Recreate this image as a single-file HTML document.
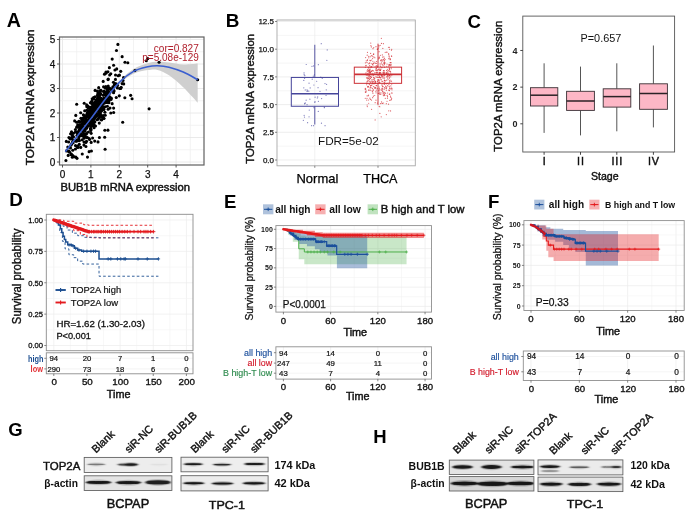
<!DOCTYPE html>
<html><head><meta charset="utf-8"><title>Figure</title>
<style>html,body{margin:0;padding:0;background:#fff;}body{width:692px;height:519px;overflow:hidden;font-family:"Liberation Sans",sans-serif;}svg{display:block;will-change:transform;}</style></head>
<body>
<svg width="692" height="519" viewBox="0 0 692 519" font-family="'Liberation Sans', sans-serif">
<rect width="692" height="519" fill="#fff"/>
<g id="A">
<text x="6.7" y="27.3" font-size="19.6" font-weight="bold">A</text>
<rect x="59.5" y="37" width="144.5" height="128" fill="#fff" stroke="none" stroke-width="1"/>
<line x1="62.5" y1="37" x2="62.5" y2="165" stroke="#e4e4e4" stroke-width="0.8"/>
<line x1="76.7" y1="37" x2="76.7" y2="165" stroke="#f0f0f0" stroke-width="0.8"/>
<line x1="90.9" y1="37" x2="90.9" y2="165" stroke="#e4e4e4" stroke-width="0.8"/>
<line x1="105.1" y1="37" x2="105.1" y2="165" stroke="#f0f0f0" stroke-width="0.8"/>
<line x1="119.3" y1="37" x2="119.3" y2="165" stroke="#e4e4e4" stroke-width="0.8"/>
<line x1="133.5" y1="37" x2="133.5" y2="165" stroke="#f0f0f0" stroke-width="0.8"/>
<line x1="147.7" y1="37" x2="147.7" y2="165" stroke="#e4e4e4" stroke-width="0.8"/>
<line x1="161.9" y1="37" x2="161.9" y2="165" stroke="#f0f0f0" stroke-width="0.8"/>
<line x1="176.1" y1="37" x2="176.1" y2="165" stroke="#e4e4e4" stroke-width="0.8"/>
<line x1="190.3" y1="37" x2="190.3" y2="165" stroke="#f0f0f0" stroke-width="0.8"/>
<line x1="59.5" y1="162" x2="204" y2="162" stroke="#e4e4e4" stroke-width="0.8"/>
<line x1="59.5" y1="149.75" x2="204" y2="149.75" stroke="#f0f0f0" stroke-width="0.8"/>
<line x1="59.5" y1="137.5" x2="204" y2="137.5" stroke="#e4e4e4" stroke-width="0.8"/>
<line x1="59.5" y1="125.25" x2="204" y2="125.25" stroke="#f0f0f0" stroke-width="0.8"/>
<line x1="59.5" y1="113" x2="204" y2="113" stroke="#e4e4e4" stroke-width="0.8"/>
<line x1="59.5" y1="100.75" x2="204" y2="100.75" stroke="#f0f0f0" stroke-width="0.8"/>
<line x1="59.5" y1="88.5" x2="204" y2="88.5" stroke="#e4e4e4" stroke-width="0.8"/>
<line x1="59.5" y1="76.25" x2="204" y2="76.25" stroke="#f0f0f0" stroke-width="0.8"/>
<line x1="59.5" y1="64" x2="204" y2="64" stroke="#e4e4e4" stroke-width="0.8"/>
<line x1="59.5" y1="51.75" x2="204" y2="51.75" stroke="#f0f0f0" stroke-width="0.8"/>
<line x1="59.5" y1="39.5" x2="204" y2="39.5" stroke="#e4e4e4" stroke-width="0.8"/>
<path d="M65.34 149.75 C67.23 147.42 72.44 141.13 76.7 135.78 C80.96 130.44 86.17 123.86 90.9 117.66 C95.63 111.45 100.37 104.67 105.1 98.55 C109.83 92.42 114.57 85.85 119.3 80.91 C124.03 75.96 128.77 71.84 133.5 68.9 C138.23 65.96 143.68 64.45 147.7 63.27 C151.72 62.08 154.09 61.92 157.64 61.8 C161.19 61.67 164.74 62.08 169 62.53 C173.26 62.98 178.42 64.33 183.2 64.49 C187.98 64.65 195.27 63.67 197.68 63.51 L197.68 102.71 C195.27 100.14 187.98 91.85 183.2 87.28 C178.42 82.7 173.26 78.17 169 75.27 C164.74 72.37 161.19 70.74 157.64 69.88 C154.09 69.02 151.72 69.47 147.7 70.12 C143.68 70.78 138.23 71.51 133.5 73.8 C128.77 76.09 124.03 79.39 119.3 83.84 C114.57 88.3 109.83 94.54 105.1 100.5 C100.37 106.47 95.63 113.33 90.9 119.62 C86.17 125.9 80.96 132.56 76.7 138.24 C72.44 143.91 67.23 151.1 65.34 153.67Z" fill="#cfcfcf" stroke="none" stroke-width="1"/>
<g fill="#000">
<circle cx="89.83" cy="112.12" r="1.55"/>
<circle cx="107.71" cy="88.32" r="1.55"/>
<circle cx="107.7" cy="93.24" r="1.55"/>
<circle cx="95.19" cy="101.72" r="1.55"/>
<circle cx="100.58" cy="97.96" r="1.55"/>
<circle cx="99.69" cy="92.65" r="1.55"/>
<circle cx="87.64" cy="116.85" r="1.55"/>
<circle cx="92.57" cy="120.16" r="1.55"/>
<circle cx="84.53" cy="122.26" r="1.55"/>
<circle cx="84.03" cy="142.09" r="1.55"/>
<circle cx="101.43" cy="99.13" r="1.55"/>
<circle cx="82.98" cy="122.42" r="1.55"/>
<circle cx="82.62" cy="124.11" r="1.55"/>
<circle cx="90.09" cy="122.54" r="1.55"/>
<circle cx="66.86" cy="150.51" r="1.55"/>
<circle cx="84.53" cy="115.85" r="1.55"/>
<circle cx="103.99" cy="102.5" r="1.55"/>
<circle cx="82.25" cy="139.83" r="1.55"/>
<circle cx="101.21" cy="107" r="1.55"/>
<circle cx="78.9" cy="137.76" r="1.55"/>
<circle cx="110.01" cy="108.07" r="1.55"/>
<circle cx="90.8" cy="118.02" r="1.55"/>
<circle cx="90.39" cy="107.38" r="1.55"/>
<circle cx="107.57" cy="94.78" r="1.55"/>
<circle cx="96.23" cy="113.39" r="1.55"/>
<circle cx="72.68" cy="141.62" r="1.55"/>
<circle cx="98.35" cy="93.23" r="1.55"/>
<circle cx="77.01" cy="135.46" r="1.55"/>
<circle cx="106.49" cy="96.59" r="1.55"/>
<circle cx="97.42" cy="115.49" r="1.55"/>
<circle cx="94.82" cy="110.08" r="1.55"/>
<circle cx="94.35" cy="118.4" r="1.55"/>
<circle cx="105.54" cy="99.83" r="1.55"/>
<circle cx="78.53" cy="133.09" r="1.55"/>
<circle cx="89.28" cy="114" r="1.55"/>
<circle cx="90.06" cy="120.37" r="1.55"/>
<circle cx="100.69" cy="106.9" r="1.55"/>
<circle cx="96.69" cy="104.23" r="1.55"/>
<circle cx="119.44" cy="75.17" r="1.55"/>
<circle cx="99.1" cy="98.97" r="1.55"/>
<circle cx="88.78" cy="114.63" r="1.55"/>
<circle cx="107.79" cy="93.45" r="1.55"/>
<circle cx="98.38" cy="103.22" r="1.55"/>
<circle cx="90.9" cy="125.5" r="1.55"/>
<circle cx="97.81" cy="110.95" r="1.55"/>
<circle cx="91.87" cy="103.26" r="1.55"/>
<circle cx="95.88" cy="112.6" r="1.55"/>
<circle cx="87.89" cy="115.26" r="1.55"/>
<circle cx="70.94" cy="145.2" r="1.55"/>
<circle cx="97.2" cy="91" r="1.55"/>
<circle cx="107.39" cy="106.31" r="1.55"/>
<circle cx="92.58" cy="119.29" r="1.55"/>
<circle cx="91.22" cy="114.66" r="1.55"/>
<circle cx="103.12" cy="106.91" r="1.55"/>
<circle cx="78.19" cy="127.1" r="1.55"/>
<circle cx="94.43" cy="121.6" r="1.55"/>
<circle cx="73.45" cy="133.24" r="1.55"/>
<circle cx="80.59" cy="127.86" r="1.55"/>
<circle cx="87.94" cy="106.16" r="1.55"/>
<circle cx="80.92" cy="134.03" r="1.55"/>
<circle cx="94.3" cy="118.55" r="1.55"/>
<circle cx="113.56" cy="92.66" r="1.55"/>
<circle cx="101.23" cy="109.08" r="1.55"/>
<circle cx="109.66" cy="75.04" r="1.55"/>
<circle cx="108.02" cy="79.61" r="1.55"/>
<circle cx="86.49" cy="127.92" r="1.55"/>
<circle cx="94.68" cy="109.11" r="1.55"/>
<circle cx="83.75" cy="133.46" r="1.55"/>
<circle cx="68.95" cy="137.58" r="1.55"/>
<circle cx="95.58" cy="102.48" r="1.55"/>
<circle cx="94.2" cy="104.23" r="1.55"/>
<circle cx="96.55" cy="100.77" r="1.55"/>
<circle cx="86.63" cy="137.44" r="1.55"/>
<circle cx="79.02" cy="122.07" r="1.55"/>
<circle cx="85.55" cy="124.03" r="1.55"/>
<circle cx="92.8" cy="112.37" r="1.55"/>
<circle cx="94.23" cy="106.11" r="1.55"/>
<circle cx="106.24" cy="102.38" r="1.55"/>
<circle cx="89.14" cy="138.66" r="1.55"/>
<circle cx="84" cy="128.71" r="1.55"/>
<circle cx="77.77" cy="146.6" r="1.55"/>
<circle cx="84.82" cy="134.69" r="1.55"/>
<circle cx="99.45" cy="117.42" r="1.55"/>
<circle cx="91.64" cy="124.06" r="1.55"/>
<circle cx="90.08" cy="121.96" r="1.55"/>
<circle cx="67.8" cy="147.06" r="1.55"/>
<circle cx="109.87" cy="92.82" r="1.55"/>
<circle cx="88.43" cy="131.97" r="1.55"/>
<circle cx="101.79" cy="119.84" r="1.55"/>
<circle cx="89.12" cy="151.64" r="1.55"/>
<circle cx="70.2" cy="138.96" r="1.55"/>
<circle cx="124.84" cy="97.82" r="1.55"/>
<circle cx="96.34" cy="103.06" r="1.55"/>
<circle cx="104.96" cy="99.79" r="1.55"/>
<circle cx="100.48" cy="102.87" r="1.55"/>
<circle cx="90.62" cy="117.15" r="1.55"/>
<circle cx="94.08" cy="127.79" r="1.55"/>
<circle cx="116.09" cy="83.77" r="1.55"/>
<circle cx="101.29" cy="98.85" r="1.55"/>
<circle cx="82.97" cy="119.46" r="1.55"/>
<circle cx="103.12" cy="103.98" r="1.55"/>
<circle cx="108.01" cy="98.31" r="1.55"/>
<circle cx="96.98" cy="105.55" r="1.55"/>
<circle cx="88.65" cy="116.65" r="1.55"/>
<circle cx="77.57" cy="147.47" r="1.55"/>
<circle cx="89.36" cy="110.94" r="1.55"/>
<circle cx="82.26" cy="154.05" r="1.55"/>
<circle cx="104.17" cy="94.96" r="1.55"/>
<circle cx="98.09" cy="100.07" r="1.55"/>
<circle cx="95.9" cy="113.63" r="1.55"/>
<circle cx="113.92" cy="90.62" r="1.55"/>
<circle cx="93.17" cy="106.5" r="1.55"/>
<circle cx="91.42" cy="151.05" r="1.55"/>
<circle cx="97.99" cy="93.03" r="1.55"/>
<circle cx="108.13" cy="109.31" r="1.55"/>
<circle cx="93.95" cy="124.61" r="1.55"/>
<circle cx="92.33" cy="122.47" r="1.55"/>
<circle cx="113.79" cy="91.17" r="1.55"/>
<circle cx="83.14" cy="123.14" r="1.55"/>
<circle cx="92.6" cy="137.96" r="1.55"/>
<circle cx="105.86" cy="86.5" r="1.55"/>
<circle cx="79.03" cy="130.75" r="1.55"/>
<circle cx="104.04" cy="102.66" r="1.55"/>
<circle cx="84.84" cy="129.61" r="1.55"/>
<circle cx="90.32" cy="128.64" r="1.55"/>
<circle cx="82.26" cy="119.97" r="1.55"/>
<circle cx="97.87" cy="96.45" r="1.55"/>
<circle cx="98.82" cy="108.72" r="1.55"/>
<circle cx="89.99" cy="110.36" r="1.55"/>
<circle cx="71.77" cy="143.64" r="1.55"/>
<circle cx="87.48" cy="137.48" r="1.55"/>
<circle cx="75.78" cy="115.42" r="1.55"/>
<circle cx="74.66" cy="120.9" r="1.55"/>
<circle cx="99.91" cy="113.3" r="1.55"/>
<circle cx="77.92" cy="125.71" r="1.55"/>
<circle cx="105.39" cy="88.04" r="1.55"/>
<circle cx="72.85" cy="155.59" r="1.55"/>
<circle cx="79.26" cy="140.49" r="1.55"/>
<circle cx="101.45" cy="102.33" r="1.55"/>
<circle cx="78.84" cy="139.96" r="1.55"/>
<circle cx="79.99" cy="130.53" r="1.55"/>
<circle cx="93.24" cy="112.21" r="1.55"/>
<circle cx="77.73" cy="134.63" r="1.55"/>
<circle cx="89.11" cy="121.98" r="1.55"/>
<circle cx="92.03" cy="119.64" r="1.55"/>
<circle cx="108.24" cy="94" r="1.55"/>
<circle cx="73.52" cy="136.81" r="1.55"/>
<circle cx="79.27" cy="144.34" r="1.55"/>
<circle cx="101.17" cy="101.98" r="1.55"/>
<circle cx="82.05" cy="124.23" r="1.55"/>
<circle cx="83.73" cy="136.72" r="1.55"/>
<circle cx="89.17" cy="107.22" r="1.55"/>
<circle cx="86.76" cy="119.8" r="1.55"/>
<circle cx="104.5" cy="74.15" r="1.55"/>
<circle cx="107.56" cy="92.25" r="1.55"/>
<circle cx="107.16" cy="102.4" r="1.55"/>
<circle cx="123.7" cy="83.88" r="1.55"/>
<circle cx="88.31" cy="107.66" r="1.55"/>
<circle cx="111.08" cy="89.56" r="1.55"/>
<circle cx="105.24" cy="115.27" r="1.55"/>
<circle cx="93.51" cy="121.71" r="1.55"/>
<circle cx="86.83" cy="114.24" r="1.55"/>
<circle cx="114.95" cy="83.62" r="1.55"/>
<circle cx="114.92" cy="70.02" r="1.55"/>
<circle cx="101.98" cy="104.83" r="1.55"/>
<circle cx="123.02" cy="80.54" r="1.55"/>
<circle cx="86.6" cy="124.79" r="1.55"/>
<circle cx="98.61" cy="111.25" r="1.55"/>
<circle cx="93.22" cy="105.2" r="1.55"/>
<circle cx="97.83" cy="98.11" r="1.55"/>
<circle cx="111.01" cy="99.57" r="1.55"/>
<circle cx="119.74" cy="88.49" r="1.55"/>
<circle cx="92.38" cy="116" r="1.55"/>
<circle cx="72.37" cy="135.66" r="1.55"/>
<circle cx="92.24" cy="110.71" r="1.55"/>
<circle cx="103.46" cy="91.51" r="1.55"/>
<circle cx="86.84" cy="106.8" r="1.55"/>
<circle cx="91.95" cy="100.95" r="1.55"/>
<circle cx="80.93" cy="135.62" r="1.55"/>
<circle cx="100.75" cy="100.82" r="1.55"/>
<circle cx="68.78" cy="151.51" r="1.55"/>
<circle cx="103.23" cy="95.19" r="1.55"/>
<circle cx="103.25" cy="115.63" r="1.55"/>
<circle cx="81.61" cy="135.41" r="1.55"/>
<circle cx="100.21" cy="115.65" r="1.55"/>
<circle cx="87.28" cy="112.79" r="1.55"/>
<circle cx="92.78" cy="114.54" r="1.55"/>
<circle cx="93.3" cy="103.11" r="1.55"/>
<circle cx="117.5" cy="85.4" r="1.55"/>
<circle cx="96.49" cy="107.5" r="1.55"/>
<circle cx="104.9" cy="102.87" r="1.55"/>
<circle cx="106.19" cy="95.09" r="1.55"/>
<circle cx="104.92" cy="112.18" r="1.55"/>
<circle cx="93.23" cy="124.4" r="1.55"/>
<circle cx="90.4" cy="102.7" r="1.55"/>
<circle cx="85.66" cy="121.28" r="1.55"/>
<circle cx="78.79" cy="121.23" r="1.55"/>
<circle cx="109.65" cy="96.73" r="1.55"/>
<circle cx="100.08" cy="98.25" r="1.55"/>
<circle cx="91.15" cy="133.36" r="1.55"/>
<circle cx="90.53" cy="120.48" r="1.55"/>
<circle cx="99.18" cy="96.81" r="1.55"/>
<circle cx="93.9" cy="98.96" r="1.55"/>
<circle cx="88.38" cy="126.18" r="1.55"/>
<circle cx="112.95" cy="89.72" r="1.55"/>
<circle cx="108.37" cy="90.86" r="1.55"/>
<circle cx="84.34" cy="120.68" r="1.55"/>
<circle cx="101.52" cy="110.11" r="1.55"/>
<circle cx="104.78" cy="99.35" r="1.55"/>
<circle cx="85.26" cy="136.48" r="1.55"/>
<circle cx="104.26" cy="99.05" r="1.55"/>
<circle cx="94.28" cy="104.52" r="1.55"/>
<circle cx="84.21" cy="103.27" r="1.55"/>
<circle cx="96.74" cy="101.69" r="1.55"/>
<circle cx="77.01" cy="158.34" r="1.55"/>
<circle cx="98.78" cy="100.96" r="1.55"/>
<circle cx="105.31" cy="93" r="1.55"/>
<circle cx="108.97" cy="101.07" r="1.55"/>
<circle cx="103.79" cy="118.32" r="1.55"/>
<circle cx="84.69" cy="110.72" r="1.55"/>
<circle cx="97.01" cy="119.72" r="1.55"/>
<circle cx="103.76" cy="98.15" r="1.55"/>
<circle cx="99.63" cy="104.93" r="1.55"/>
<circle cx="96.42" cy="99.91" r="1.55"/>
<circle cx="99.25" cy="123.12" r="1.55"/>
<circle cx="95.27" cy="104.37" r="1.55"/>
<circle cx="89.03" cy="115.95" r="1.55"/>
<circle cx="91.22" cy="126.49" r="1.55"/>
<circle cx="97.76" cy="105.45" r="1.55"/>
<circle cx="92.22" cy="98.84" r="1.55"/>
<circle cx="87.64" cy="113.58" r="1.55"/>
<circle cx="85.61" cy="126.86" r="1.55"/>
<circle cx="88.92" cy="112.24" r="1.55"/>
<circle cx="72.33" cy="157.22" r="1.55"/>
<circle cx="107.93" cy="71.77" r="1.55"/>
<circle cx="84.48" cy="123.84" r="1.55"/>
<circle cx="107.02" cy="88.98" r="1.55"/>
<circle cx="89.55" cy="118.19" r="1.55"/>
<circle cx="68.93" cy="150.97" r="1.55"/>
<circle cx="85.91" cy="146.51" r="1.55"/>
<circle cx="100.27" cy="91.55" r="1.55"/>
<circle cx="94.53" cy="117.8" r="1.55"/>
<circle cx="89.41" cy="119.59" r="1.55"/>
<circle cx="98.25" cy="103.48" r="1.55"/>
<circle cx="89.62" cy="139.5" r="1.55"/>
<circle cx="102.25" cy="106.97" r="1.55"/>
<circle cx="73.9" cy="140.35" r="1.55"/>
<circle cx="87.47" cy="122.87" r="1.55"/>
<circle cx="109.44" cy="98.66" r="1.55"/>
<circle cx="93.39" cy="106.81" r="1.55"/>
<circle cx="82.94" cy="129.54" r="1.55"/>
<circle cx="108.7" cy="98.11" r="1.55"/>
<circle cx="75.42" cy="131.89" r="1.55"/>
<circle cx="92.83" cy="105.54" r="1.55"/>
<circle cx="70.46" cy="137.93" r="1.55"/>
<circle cx="106.18" cy="73.1" r="1.55"/>
<circle cx="104.58" cy="100.81" r="1.55"/>
<circle cx="83.55" cy="122.87" r="1.55"/>
<circle cx="98.99" cy="105.91" r="1.55"/>
<circle cx="86.5" cy="125.3" r="1.55"/>
<circle cx="98.74" cy="113.21" r="1.55"/>
<circle cx="82.08" cy="126.61" r="1.55"/>
<circle cx="95.06" cy="112.15" r="1.55"/>
<circle cx="85.65" cy="117.68" r="1.55"/>
<circle cx="115.45" cy="79.38" r="1.55"/>
<circle cx="95.51" cy="125.95" r="1.55"/>
<circle cx="103.57" cy="86.87" r="1.55"/>
<circle cx="90.85" cy="107.88" r="1.55"/>
<circle cx="86.72" cy="110.23" r="1.55"/>
<circle cx="70.58" cy="133.74" r="1.55"/>
<circle cx="87.5" cy="115.32" r="1.55"/>
<circle cx="93.58" cy="110.73" r="1.55"/>
<circle cx="71.69" cy="133.53" r="1.55"/>
<circle cx="103.93" cy="118.53" r="1.55"/>
<circle cx="94.71" cy="141.12" r="1.55"/>
<circle cx="84.12" cy="130.15" r="1.55"/>
<circle cx="99.66" cy="97.92" r="1.55"/>
<circle cx="98.77" cy="106.72" r="1.55"/>
<circle cx="104.69" cy="137.21" r="1.55"/>
<circle cx="115.52" cy="74.98" r="1.55"/>
<circle cx="104.75" cy="100.89" r="1.55"/>
<circle cx="75.44" cy="149" r="1.55"/>
<circle cx="84.15" cy="138.31" r="1.55"/>
<circle cx="107.45" cy="90.94" r="1.55"/>
<circle cx="101.54" cy="111.02" r="1.55"/>
<circle cx="93.56" cy="97.51" r="1.55"/>
<circle cx="109.41" cy="88.03" r="1.55"/>
<circle cx="117.39" cy="87.95" r="1.55"/>
<circle cx="83.51" cy="130.34" r="1.55"/>
<circle cx="85.17" cy="130.91" r="1.55"/>
<circle cx="86.35" cy="134.11" r="1.55"/>
<circle cx="82.06" cy="135.61" r="1.55"/>
<circle cx="70.52" cy="148.02" r="1.55"/>
<circle cx="95.3" cy="105.76" r="1.55"/>
<circle cx="97.44" cy="98.57" r="1.55"/>
<circle cx="100.86" cy="93.9" r="1.55"/>
<circle cx="90.82" cy="130.52" r="1.55"/>
<circle cx="107.75" cy="89.59" r="1.55"/>
<circle cx="99.91" cy="104.76" r="1.55"/>
<circle cx="114.37" cy="84.88" r="1.55"/>
<circle cx="105.97" cy="71.98" r="1.55"/>
<circle cx="121.18" cy="87.18" r="1.55"/>
<circle cx="104.3" cy="94.28" r="1.55"/>
<circle cx="108.26" cy="79.09" r="1.55"/>
<circle cx="86.51" cy="141.22" r="1.55"/>
<circle cx="91.92" cy="103.41" r="1.55"/>
<circle cx="101.23" cy="115.62" r="1.55"/>
<circle cx="85.5" cy="118.16" r="1.55"/>
<circle cx="88.32" cy="110.5" r="1.55"/>
<circle cx="103.81" cy="109.61" r="1.55"/>
<circle cx="113.64" cy="112.45" r="1.55"/>
<circle cx="111.57" cy="88.68" r="1.55"/>
<circle cx="96.2" cy="114.81" r="1.55"/>
<circle cx="82.25" cy="130.65" r="1.55"/>
<circle cx="85.55" cy="120.38" r="1.55"/>
<circle cx="116.25" cy="97.56" r="1.55"/>
<circle cx="76.63" cy="141.04" r="1.55"/>
<circle cx="96.6" cy="116.39" r="1.55"/>
<circle cx="83.91" cy="145.09" r="1.55"/>
<circle cx="95.88" cy="106.23" r="1.55"/>
<circle cx="93.37" cy="111.84" r="1.55"/>
<circle cx="78.1" cy="147.17" r="1.55"/>
<circle cx="82.76" cy="131.76" r="1.55"/>
<circle cx="96.64" cy="104.42" r="1.55"/>
<circle cx="108.92" cy="102.7" r="1.55"/>
<circle cx="92.99" cy="111.09" r="1.55"/>
<circle cx="81.96" cy="130.29" r="1.55"/>
<circle cx="103.81" cy="98.9" r="1.55"/>
<circle cx="83.35" cy="114.84" r="1.55"/>
<circle cx="97.56" cy="106.16" r="1.55"/>
<circle cx="97.69" cy="95.1" r="1.55"/>
<circle cx="94.45" cy="106.81" r="1.55"/>
<circle cx="99.97" cy="115.86" r="1.55"/>
<circle cx="92.36" cy="109.81" r="1.55"/>
<circle cx="103.18" cy="81.38" r="1.55"/>
<circle cx="101.4" cy="101.58" r="1.55"/>
<circle cx="91.73" cy="114.4" r="1.55"/>
<circle cx="78.56" cy="140.09" r="1.55"/>
<circle cx="93.58" cy="109.18" r="1.55"/>
<circle cx="93.13" cy="125.84" r="1.55"/>
<circle cx="90.72" cy="122.18" r="1.55"/>
<circle cx="71.98" cy="134.59" r="1.55"/>
<circle cx="91.38" cy="101.99" r="1.55"/>
<circle cx="98.71" cy="87.63" r="1.55"/>
<circle cx="102.74" cy="100.42" r="1.55"/>
<circle cx="80.67" cy="112.8" r="1.55"/>
<circle cx="95.11" cy="90.42" r="1.55"/>
<circle cx="86.38" cy="133.45" r="1.55"/>
<circle cx="68.63" cy="142.03" r="1.55"/>
<circle cx="101.93" cy="108.04" r="1.55"/>
<circle cx="83.04" cy="132.12" r="1.55"/>
<circle cx="89.51" cy="116.15" r="1.55"/>
<circle cx="116.72" cy="68.92" r="1.55"/>
<circle cx="95.15" cy="113.43" r="1.55"/>
<circle cx="75.84" cy="157.15" r="1.55"/>
<circle cx="82.71" cy="130.66" r="1.55"/>
<circle cx="104.82" cy="130.21" r="1.55"/>
<circle cx="71.78" cy="138.79" r="1.55"/>
<circle cx="95.81" cy="107.19" r="1.55"/>
<circle cx="100.21" cy="114.49" r="1.55"/>
<circle cx="85.89" cy="142.38" r="1.55"/>
<circle cx="105.86" cy="93.38" r="1.55"/>
<circle cx="104.17" cy="91" r="1.55"/>
<circle cx="94.49" cy="112.25" r="1.55"/>
<circle cx="80.94" cy="118.35" r="1.55"/>
<circle cx="89.7" cy="118.43" r="1.55"/>
<circle cx="90.95" cy="129.13" r="1.55"/>
<circle cx="101.92" cy="116.9" r="1.55"/>
<circle cx="96.87" cy="110.24" r="1.55"/>
<circle cx="93.49" cy="113.7" r="1.55"/>
<circle cx="108.34" cy="92.03" r="1.55"/>
<circle cx="95.59" cy="114.39" r="1.55"/>
<circle cx="79.03" cy="125.91" r="1.55"/>
<circle cx="89.49" cy="114.08" r="1.55"/>
<circle cx="112.93" cy="86.7" r="1.55"/>
<circle cx="97.94" cy="119.15" r="1.55"/>
<circle cx="84.67" cy="129.47" r="1.55"/>
<circle cx="71.51" cy="131.81" r="1.55"/>
<circle cx="91.27" cy="112.84" r="1.55"/>
<circle cx="103" cy="107.88" r="1.55"/>
<circle cx="93.08" cy="111.31" r="1.55"/>
<circle cx="107.62" cy="92.84" r="1.55"/>
<circle cx="71.33" cy="154.09" r="1.55"/>
<circle cx="103.8" cy="109.05" r="1.55"/>
<circle cx="99.97" cy="94.93" r="1.55"/>
<circle cx="87.21" cy="122.3" r="1.55"/>
<circle cx="100.4" cy="112.43" r="1.55"/>
<circle cx="112.48" cy="89.44" r="1.55"/>
<circle cx="93.35" cy="104.12" r="1.55"/>
<circle cx="99.36" cy="114.96" r="1.55"/>
<circle cx="89.89" cy="115.28" r="1.55"/>
<circle cx="118.12" cy="75.73" r="1.55"/>
<circle cx="72.77" cy="150.24" r="1.55"/>
<circle cx="96.67" cy="114.86" r="1.55"/>
<circle cx="106.87" cy="97.83" r="1.55"/>
<circle cx="78.74" cy="136.24" r="1.55"/>
<circle cx="94.82" cy="121.98" r="1.55"/>
<circle cx="105.27" cy="106.72" r="1.55"/>
<circle cx="100.44" cy="108.21" r="1.55"/>
<circle cx="97.65" cy="95.19" r="1.55"/>
<circle cx="77.76" cy="124.84" r="1.55"/>
<circle cx="77.41" cy="140.62" r="1.55"/>
<circle cx="96.41" cy="100.4" r="1.55"/>
<circle cx="101.03" cy="119.81" r="1.55"/>
<circle cx="80.4" cy="124.76" r="1.55"/>
<circle cx="76.67" cy="127.16" r="1.55"/>
<circle cx="100.95" cy="90.21" r="1.55"/>
<circle cx="81.57" cy="121.09" r="1.55"/>
<circle cx="109.06" cy="93.95" r="1.55"/>
<circle cx="87.18" cy="120.64" r="1.55"/>
<circle cx="73.09" cy="142.73" r="1.55"/>
<circle cx="77.43" cy="145.98" r="1.55"/>
<circle cx="66.32" cy="141.38" r="1.55"/>
<circle cx="81.22" cy="127.79" r="1.55"/>
<circle cx="86.52" cy="125.86" r="1.55"/>
<circle cx="91.44" cy="113.63" r="1.55"/>
<circle cx="75.42" cy="129.46" r="1.55"/>
<circle cx="92.29" cy="107.11" r="1.55"/>
<circle cx="108.03" cy="100.18" r="1.55"/>
<circle cx="80.82" cy="127.6" r="1.55"/>
<circle cx="99.85" cy="98.81" r="1.55"/>
<circle cx="75.92" cy="141.14" r="1.55"/>
<circle cx="89.62" cy="124.51" r="1.55"/>
<circle cx="108.04" cy="88.7" r="1.55"/>
<circle cx="79.74" cy="134.49" r="1.55"/>
<circle cx="91.15" cy="142.4" r="1.55"/>
<circle cx="86.06" cy="116.93" r="1.55"/>
<circle cx="93.55" cy="111.1" r="1.55"/>
<circle cx="91.26" cy="108.24" r="1.55"/>
<circle cx="79.47" cy="129.32" r="1.55"/>
<circle cx="86.48" cy="128.14" r="1.55"/>
<circle cx="95.9" cy="110.97" r="1.55"/>
<circle cx="112.15" cy="103.63" r="1.55"/>
<circle cx="77.03" cy="132.47" r="1.55"/>
<circle cx="93.36" cy="122.62" r="1.55"/>
<circle cx="99.12" cy="99.32" r="1.55"/>
<circle cx="88.89" cy="113.71" r="1.55"/>
<circle cx="95.22" cy="114.65" r="1.55"/>
<circle cx="75.47" cy="145.6" r="1.55"/>
<circle cx="111.26" cy="98.14" r="1.55"/>
<circle cx="99.69" cy="90.78" r="1.55"/>
<circle cx="92.46" cy="122.6" r="1.55"/>
<circle cx="83.54" cy="135.61" r="1.55"/>
<circle cx="104.87" cy="92.04" r="1.55"/>
<circle cx="77.85" cy="132.13" r="1.55"/>
<circle cx="94.15" cy="111.67" r="1.55"/>
<circle cx="76.71" cy="131.97" r="1.55"/>
<circle cx="100" cy="110.4" r="1.55"/>
<circle cx="98.19" cy="106.43" r="1.55"/>
<circle cx="91.11" cy="116.53" r="1.55"/>
<circle cx="80.74" cy="147.42" r="1.55"/>
<circle cx="108.69" cy="93.07" r="1.55"/>
<circle cx="95.92" cy="109.95" r="1.55"/>
<circle cx="84.79" cy="129.04" r="1.55"/>
<circle cx="83.29" cy="117.91" r="1.55"/>
<circle cx="94.33" cy="116.68" r="1.55"/>
<circle cx="78.51" cy="126.56" r="1.55"/>
<circle cx="86.65" cy="104.92" r="1.55"/>
<circle cx="82.77" cy="126.23" r="1.55"/>
<circle cx="111.99" cy="89.61" r="1.55"/>
<circle cx="87.62" cy="112.84" r="1.55"/>
<circle cx="77.3" cy="139.92" r="1.55"/>
<circle cx="113.44" cy="82.21" r="1.55"/>
<circle cx="89.17" cy="118.3" r="1.55"/>
<circle cx="101.65" cy="100.81" r="1.55"/>
<circle cx="78.33" cy="140.21" r="1.55"/>
<circle cx="108.33" cy="98.83" r="1.55"/>
<circle cx="79.07" cy="140.79" r="1.55"/>
<circle cx="89.38" cy="122.76" r="1.55"/>
<circle cx="71.79" cy="138.28" r="1.55"/>
<circle cx="96.43" cy="104.89" r="1.55"/>
<circle cx="76.67" cy="122.26" r="1.55"/>
<circle cx="83.84" cy="127.22" r="1.55"/>
<circle cx="83.09" cy="122" r="1.55"/>
<circle cx="74.03" cy="156.71" r="1.55"/>
<circle cx="91.65" cy="102.41" r="1.55"/>
<circle cx="109.35" cy="88.5" r="1.55"/>
<circle cx="79.9" cy="122.24" r="1.55"/>
<circle cx="107.9" cy="94.08" r="1.55"/>
<circle cx="108.23" cy="86" r="1.55"/>
<circle cx="95.06" cy="96.82" r="1.55"/>
<circle cx="98.66" cy="105.75" r="1.55"/>
<circle cx="94.88" cy="108.72" r="1.55"/>
<circle cx="117.88" cy="44.4" r="1.55"/>
<circle cx="116.46" cy="50.53" r="1.55"/>
<circle cx="122.14" cy="56.65" r="1.55"/>
<circle cx="112.2" cy="59.1" r="1.55"/>
<circle cx="113.62" cy="65.22" r="1.55"/>
<circle cx="124.98" cy="62.28" r="1.55"/>
<circle cx="127.82" cy="62.78" r="1.55"/>
<circle cx="149.12" cy="108.84" r="1.55"/>
<circle cx="122.71" cy="122.31" r="1.55"/>
<circle cx="130.66" cy="95.36" r="1.55"/>
<circle cx="132.08" cy="98.79" r="1.55"/>
<circle cx="146.28" cy="60.81" r="1.55"/>
<circle cx="147.7" cy="58.61" r="1.55"/>
<circle cx="159.06" cy="62.28" r="1.55"/>
<circle cx="134.92" cy="70.61" r="1.55"/>
<circle cx="197.68" cy="79.68" r="1.55"/>
<circle cx="76.7" cy="104.18" r="1.55"/>
<circle cx="105.1" cy="149.26" r="1.55"/>
<circle cx="87.49" cy="157.1" r="1.55"/>
<circle cx="65.91" cy="160.53" r="1.55"/>
<circle cx="68.18" cy="155.38" r="1.55"/>
<circle cx="69.6" cy="152.2" r="1.55"/>
<circle cx="71.02" cy="154.65" r="1.55"/>
<circle cx="66.76" cy="150.97" r="1.55"/>
<circle cx="120.72" cy="88.5" r="1.55"/>
<circle cx="122.14" cy="83.6" r="1.55"/>
<circle cx="119.3" cy="95.85" r="1.55"/>
<circle cx="107.94" cy="130.15" r="1.55"/>
<circle cx="98" cy="141.91" r="1.55"/>
<circle cx="99.42" cy="137.5" r="1.55"/>
<circle cx="110.78" cy="113" r="1.55"/>
<circle cx="113.62" cy="108.1" r="1.55"/>
<circle cx="123.56" cy="77.47" r="1.55"/>
<circle cx="120.72" cy="71.35" r="1.55"/>
<circle cx="109.36" cy="67.67" r="1.55"/>
<circle cx="110.78" cy="73.8" r="1.55"/>
</g>
<path d="M65.34 151.71 C67.23 149.26 72.44 142.52 76.7 137.01 C80.96 131.5 86.17 124.88 90.9 118.63 C95.63 112.39 100.37 105.57 105.1 99.53 C109.83 93.48 114.57 87.07 119.3 82.38 C124.03 77.68 128.77 73.96 133.5 71.35 C138.23 68.74 143.68 67.63 147.7 66.69 C151.72 65.76 154.09 65.63 157.64 65.71 C161.19 65.8 164.74 66.12 169 67.19 C173.26 68.25 178.42 70 183.2 72.09 C187.98 74.17 195.27 78.41 197.68 79.68" fill="none" stroke="#3b5fd0" stroke-width="1.6"/>
<rect x="59.5" y="37" width="144.5" height="128" fill="none" stroke="#606060" stroke-width="1.2"/>
<line x1="57" y1="162" x2="59.5" y2="162" stroke="#444" stroke-width="0.9"/>
<text x="55.3" y="165.6" font-size="10" text-anchor="end" fill="#111" stroke="#111" stroke-width="0.25">0</text>
<line x1="57" y1="137.5" x2="59.5" y2="137.5" stroke="#444" stroke-width="0.9"/>
<text x="55.3" y="141.1" font-size="10" text-anchor="end" fill="#111" stroke="#111" stroke-width="0.25">1</text>
<line x1="57" y1="113" x2="59.5" y2="113" stroke="#444" stroke-width="0.9"/>
<text x="55.3" y="116.6" font-size="10" text-anchor="end" fill="#111" stroke="#111" stroke-width="0.25">2</text>
<line x1="57" y1="88.5" x2="59.5" y2="88.5" stroke="#444" stroke-width="0.9"/>
<text x="55.3" y="92.1" font-size="10" text-anchor="end" fill="#111" stroke="#111" stroke-width="0.25">3</text>
<line x1="57" y1="64" x2="59.5" y2="64" stroke="#444" stroke-width="0.9"/>
<text x="55.3" y="67.6" font-size="10" text-anchor="end" fill="#111" stroke="#111" stroke-width="0.25">4</text>
<line x1="57" y1="39.5" x2="59.5" y2="39.5" stroke="#444" stroke-width="0.9"/>
<text x="55.3" y="43.1" font-size="10" text-anchor="end" fill="#111" stroke="#111" stroke-width="0.25">5</text>
<line x1="62.5" y1="165" x2="62.5" y2="167.5" stroke="#444" stroke-width="0.9"/>
<text x="62.5" y="178.2" font-size="10" text-anchor="middle" fill="#111" stroke="#111" stroke-width="0.25">0</text>
<line x1="90.9" y1="165" x2="90.9" y2="167.5" stroke="#444" stroke-width="0.9"/>
<text x="90.9" y="178.2" font-size="10" text-anchor="middle" fill="#111" stroke="#111" stroke-width="0.25">1</text>
<line x1="119.3" y1="165" x2="119.3" y2="167.5" stroke="#444" stroke-width="0.9"/>
<text x="119.3" y="178.2" font-size="10" text-anchor="middle" fill="#111" stroke="#111" stroke-width="0.25">2</text>
<line x1="147.7" y1="165" x2="147.7" y2="167.5" stroke="#444" stroke-width="0.9"/>
<text x="147.7" y="178.2" font-size="10" text-anchor="middle" fill="#111" stroke="#111" stroke-width="0.25">3</text>
<line x1="176.1" y1="165" x2="176.1" y2="167.5" stroke="#444" stroke-width="0.9"/>
<text x="176.1" y="178.2" font-size="10" text-anchor="middle" fill="#111" stroke="#111" stroke-width="0.25">4</text>
<text x="60.5" y="191.3" font-size="10.2" textLength="129.5" lengthAdjust="spacingAndGlyphs" fill="#111" stroke="#111" stroke-width="0.42">BUB1B mRNA expression</text>
<text x="34" y="165.3" font-size="10.5" textLength="136" lengthAdjust="spacingAndGlyphs" transform="rotate(-90 34 165.3)" fill="#111" stroke="#111" stroke-width="0.42">TOP2A mRNA expression</text>
<text x="198.8" y="51.9" font-size="10.6" textLength="45" lengthAdjust="spacingAndGlyphs" text-anchor="end" fill="#b01e2b">cor=0.827</text>
<text x="198.8" y="61.4" font-size="10.6" textLength="56.5" lengthAdjust="spacingAndGlyphs" text-anchor="end" fill="#b01e2b">p=5.08e-129</text>
</g>
<g id="B">
<text x="225.7" y="27.1" font-size="18.9" font-weight="bold">B</text>
<rect x="277" y="20" width="138.3" height="145.8" fill="#fff" stroke="none" stroke-width="1"/>
<line x1="277" y1="160" x2="415.3" y2="160" stroke="#e6e6e6" stroke-width="0.7"/>
<line x1="277" y1="146.15" x2="415.3" y2="146.15" stroke="#f1f1f1" stroke-width="0.7"/>
<line x1="277" y1="132.3" x2="415.3" y2="132.3" stroke="#e6e6e6" stroke-width="0.7"/>
<line x1="277" y1="118.45" x2="415.3" y2="118.45" stroke="#f1f1f1" stroke-width="0.7"/>
<line x1="277" y1="104.6" x2="415.3" y2="104.6" stroke="#e6e6e6" stroke-width="0.7"/>
<line x1="277" y1="90.75" x2="415.3" y2="90.75" stroke="#f1f1f1" stroke-width="0.7"/>
<line x1="277" y1="76.9" x2="415.3" y2="76.9" stroke="#e6e6e6" stroke-width="0.7"/>
<line x1="277" y1="63.05" x2="415.3" y2="63.05" stroke="#f1f1f1" stroke-width="0.7"/>
<line x1="277" y1="49.2" x2="415.3" y2="49.2" stroke="#e6e6e6" stroke-width="0.7"/>
<line x1="277" y1="35.35" x2="415.3" y2="35.35" stroke="#f1f1f1" stroke-width="0.7"/>
<line x1="277" y1="21.5" x2="415.3" y2="21.5" stroke="#e6e6e6" stroke-width="0.7"/>
<line x1="314.8" y1="20" x2="314.8" y2="165.8" stroke="#ebebeb" stroke-width="0.7"/>
<line x1="378" y1="20" x2="378" y2="165.8" stroke="#ebebeb" stroke-width="0.7"/>
<g fill="#6766b0" fill-opacity="0.85">
<circle cx="313.61" cy="125.65" r="0.62"/>
<circle cx="313.94" cy="107.74" r="0.62"/>
<circle cx="315" cy="101.67" r="0.62"/>
<circle cx="315.1" cy="97.22" r="0.62"/>
<circle cx="318.05" cy="87.7" r="0.62"/>
<circle cx="309.89" cy="99.22" r="0.62"/>
<circle cx="304.57" cy="78.35" r="0.62"/>
<circle cx="303.35" cy="120.32" r="0.62"/>
<circle cx="326.85" cy="60.28" r="0.62"/>
<circle cx="317.69" cy="96.93" r="0.62"/>
<circle cx="306.24" cy="64.5" r="0.62"/>
<circle cx="303.79" cy="87.77" r="0.62"/>
<circle cx="307.06" cy="89.93" r="0.62"/>
<circle cx="313.9" cy="85" r="0.62"/>
<circle cx="313.31" cy="76.22" r="0.62"/>
<circle cx="318.31" cy="111.49" r="0.62"/>
<circle cx="314.79" cy="102.36" r="0.62"/>
<circle cx="309.25" cy="110.04" r="0.62"/>
<circle cx="327.24" cy="49.89" r="0.62"/>
<circle cx="320" cy="91.29" r="0.62"/>
<circle cx="310.18" cy="87.98" r="0.62"/>
<circle cx="304.06" cy="72.95" r="0.62"/>
<circle cx="321.46" cy="123.23" r="0.62"/>
<circle cx="311.96" cy="66.32" r="0.62"/>
<circle cx="326.25" cy="89.8" r="0.62"/>
<circle cx="307.54" cy="90.77" r="0.62"/>
<circle cx="325.06" cy="125.65" r="0.62"/>
<circle cx="312.24" cy="79.13" r="0.62"/>
<circle cx="304.13" cy="115.31" r="0.62"/>
<circle cx="309.04" cy="116.76" r="0.62"/>
<circle cx="304.48" cy="117.12" r="0.62"/>
<circle cx="321.25" cy="43.66" r="0.62"/>
<circle cx="305.25" cy="89.98" r="0.62"/>
<circle cx="303.8" cy="80.48" r="0.62"/>
<circle cx="322.23" cy="78.37" r="0.62"/>
<circle cx="313.49" cy="65.98" r="0.62"/>
<circle cx="307.07" cy="91.46" r="0.62"/>
<circle cx="318.39" cy="101.28" r="0.62"/>
<circle cx="305.21" cy="102.99" r="0.62"/>
<circle cx="309.04" cy="83.24" r="0.62"/>
<circle cx="326.57" cy="84.29" r="0.62"/>
<circle cx="324.42" cy="107.12" r="0.62"/>
<circle cx="307.57" cy="122.73" r="0.62"/>
<circle cx="318.35" cy="64.72" r="0.62"/>
<circle cx="304.81" cy="75.65" r="0.62"/>
<circle cx="308.76" cy="91.18" r="0.62"/>
<circle cx="321.62" cy="98.6" r="0.62"/>
<circle cx="304.13" cy="74.67" r="0.62"/>
<circle cx="304.55" cy="103.83" r="0.62"/>
<circle cx="317.33" cy="98" r="0.62"/>
<circle cx="311.59" cy="125.65" r="0.62"/>
<circle cx="314.39" cy="74.77" r="0.62"/>
<circle cx="316.66" cy="81.25" r="0.62"/>
<circle cx="306.15" cy="100.15" r="0.62"/>
<circle cx="325.01" cy="83.6" r="0.62"/>
<circle cx="307.05" cy="104.72" r="0.62"/>
<circle cx="320.79" cy="77.23" r="0.62"/>
<circle cx="326.05" cy="95.29" r="0.62"/>
<circle cx="324.35" cy="107.72" r="0.62"/>
<circle cx="304.9" cy="103.53" r="0.62"/>
</g>
<g fill="#d6383e" fill-opacity="0.8">
<circle cx="366.04" cy="65.45" r="0.6"/>
<circle cx="384.02" cy="78.26" r="0.6"/>
<circle cx="371.94" cy="67.12" r="0.6"/>
<circle cx="372.92" cy="93.15" r="0.6"/>
<circle cx="369.74" cy="76.8" r="0.6"/>
<circle cx="371.17" cy="81.14" r="0.6"/>
<circle cx="380.1" cy="63.86" r="0.6"/>
<circle cx="372.57" cy="91.7" r="0.6"/>
<circle cx="389.77" cy="75.04" r="0.6"/>
<circle cx="372.27" cy="73.27" r="0.6"/>
<circle cx="377.03" cy="67.46" r="0.6"/>
<circle cx="374.96" cy="72.47" r="0.6"/>
<circle cx="380.45" cy="66.54" r="0.6"/>
<circle cx="389.06" cy="65.74" r="0.6"/>
<circle cx="391.47" cy="87.98" r="0.6"/>
<circle cx="380.78" cy="94.21" r="0.6"/>
<circle cx="368.79" cy="73.12" r="0.6"/>
<circle cx="389.58" cy="75.19" r="0.6"/>
<circle cx="383.93" cy="72.89" r="0.6"/>
<circle cx="382.18" cy="76.48" r="0.6"/>
<circle cx="378.02" cy="77.33" r="0.6"/>
<circle cx="391.98" cy="88.32" r="0.6"/>
<circle cx="367.03" cy="98.35" r="0.6"/>
<circle cx="389.31" cy="82.52" r="0.6"/>
<circle cx="384.9" cy="83.13" r="0.6"/>
<circle cx="389.71" cy="100.29" r="0.6"/>
<circle cx="374.5" cy="88.06" r="0.6"/>
<circle cx="388.52" cy="104.22" r="0.6"/>
<circle cx="376.26" cy="68.55" r="0.6"/>
<circle cx="380.47" cy="103.61" r="0.6"/>
<circle cx="381.87" cy="89.86" r="0.6"/>
<circle cx="381.44" cy="62.96" r="0.6"/>
<circle cx="367.17" cy="104.98" r="0.6"/>
<circle cx="388.75" cy="110.81" r="0.6"/>
<circle cx="384.66" cy="93.73" r="0.6"/>
<circle cx="380.69" cy="60.65" r="0.6"/>
<circle cx="376.89" cy="72.62" r="0.6"/>
<circle cx="385.26" cy="80.91" r="0.6"/>
<circle cx="365.8" cy="89.06" r="0.6"/>
<circle cx="371.22" cy="85.6" r="0.6"/>
<circle cx="383.86" cy="95.68" r="0.6"/>
<circle cx="389.85" cy="75.45" r="0.6"/>
<circle cx="371.91" cy="63.63" r="0.6"/>
<circle cx="383.31" cy="74.93" r="0.6"/>
<circle cx="370.47" cy="60.64" r="0.6"/>
<circle cx="382.82" cy="48.4" r="0.6"/>
<circle cx="376.93" cy="65.83" r="0.6"/>
<circle cx="382.98" cy="83.85" r="0.6"/>
<circle cx="370.36" cy="99.46" r="0.6"/>
<circle cx="389.68" cy="64.82" r="0.6"/>
<circle cx="388.77" cy="90.04" r="0.6"/>
<circle cx="373.55" cy="63.14" r="0.6"/>
<circle cx="368.68" cy="103.23" r="0.6"/>
<circle cx="387.92" cy="75.18" r="0.6"/>
<circle cx="384.2" cy="64.76" r="0.6"/>
<circle cx="369.57" cy="79.38" r="0.6"/>
<circle cx="377.17" cy="77.37" r="0.6"/>
<circle cx="376.18" cy="65.92" r="0.6"/>
<circle cx="381.89" cy="88.32" r="0.6"/>
<circle cx="387.66" cy="75.31" r="0.6"/>
<circle cx="391.51" cy="81.22" r="0.6"/>
<circle cx="365.85" cy="74.12" r="0.6"/>
<circle cx="388.57" cy="53.94" r="0.6"/>
<circle cx="380.41" cy="69.96" r="0.6"/>
<circle cx="373.34" cy="75.06" r="0.6"/>
<circle cx="368.67" cy="78.53" r="0.6"/>
<circle cx="377.28" cy="49.02" r="0.6"/>
<circle cx="371.41" cy="71.6" r="0.6"/>
<circle cx="368.8" cy="56.38" r="0.6"/>
<circle cx="377.05" cy="69.89" r="0.6"/>
<circle cx="382.01" cy="90.48" r="0.6"/>
<circle cx="390.88" cy="97.42" r="0.6"/>
<circle cx="383.48" cy="70.67" r="0.6"/>
<circle cx="369.82" cy="60.26" r="0.6"/>
<circle cx="365.29" cy="98.24" r="0.6"/>
<circle cx="369.84" cy="71.83" r="0.6"/>
<circle cx="372.35" cy="88.39" r="0.6"/>
<circle cx="379.05" cy="57.43" r="0.6"/>
<circle cx="381.59" cy="75.23" r="0.6"/>
<circle cx="386.38" cy="90.19" r="0.6"/>
<circle cx="389.47" cy="47.24" r="0.6"/>
<circle cx="384.5" cy="58.36" r="0.6"/>
<circle cx="368.51" cy="95.13" r="0.6"/>
<circle cx="389.57" cy="69.98" r="0.6"/>
<circle cx="375.17" cy="102.69" r="0.6"/>
<circle cx="386.51" cy="88.2" r="0.6"/>
<circle cx="390.49" cy="96.16" r="0.6"/>
<circle cx="370.53" cy="71.07" r="0.6"/>
<circle cx="384.49" cy="67.2" r="0.6"/>
<circle cx="384.38" cy="94.55" r="0.6"/>
<circle cx="370.76" cy="43.1" r="0.6"/>
<circle cx="391.39" cy="99.55" r="0.6"/>
<circle cx="379.5" cy="72.58" r="0.6"/>
<circle cx="389.57" cy="88.04" r="0.6"/>
<circle cx="388.11" cy="79.27" r="0.6"/>
<circle cx="376.9" cy="70.92" r="0.6"/>
<circle cx="379.86" cy="73.89" r="0.6"/>
<circle cx="365.77" cy="92.34" r="0.6"/>
<circle cx="386.85" cy="52.02" r="0.6"/>
<circle cx="369.67" cy="65.67" r="0.6"/>
<circle cx="374.05" cy="73.92" r="0.6"/>
<circle cx="369.01" cy="83.49" r="0.6"/>
<circle cx="378.95" cy="80.35" r="0.6"/>
<circle cx="383.61" cy="102.99" r="0.6"/>
<circle cx="390.54" cy="110.91" r="0.6"/>
<circle cx="367.32" cy="74.15" r="0.6"/>
<circle cx="370.98" cy="87.55" r="0.6"/>
<circle cx="384.68" cy="77.78" r="0.6"/>
<circle cx="382.25" cy="103.26" r="0.6"/>
<circle cx="380.12" cy="79.75" r="0.6"/>
<circle cx="373.42" cy="96.22" r="0.6"/>
<circle cx="389.31" cy="56.9" r="0.6"/>
<circle cx="370.62" cy="53.39" r="0.6"/>
<circle cx="379.15" cy="106.32" r="0.6"/>
<circle cx="380.47" cy="70.38" r="0.6"/>
<circle cx="378.59" cy="58.78" r="0.6"/>
<circle cx="381.34" cy="38.33" r="0.6"/>
<circle cx="378.93" cy="69.19" r="0.6"/>
<circle cx="375.82" cy="69.95" r="0.6"/>
<circle cx="378.26" cy="93.38" r="0.6"/>
<circle cx="383.66" cy="59.39" r="0.6"/>
<circle cx="376.17" cy="68.58" r="0.6"/>
<circle cx="390.84" cy="65.68" r="0.6"/>
<circle cx="377.78" cy="81.07" r="0.6"/>
<circle cx="368.43" cy="100.02" r="0.6"/>
<circle cx="389.31" cy="65.07" r="0.6"/>
<circle cx="377.87" cy="79.64" r="0.6"/>
<circle cx="381.68" cy="67.23" r="0.6"/>
<circle cx="389.98" cy="58.59" r="0.6"/>
<circle cx="365.62" cy="57.6" r="0.6"/>
<circle cx="370.24" cy="72.67" r="0.6"/>
<circle cx="373.7" cy="54.06" r="0.6"/>
<circle cx="374.59" cy="80.74" r="0.6"/>
<circle cx="384.73" cy="80.43" r="0.6"/>
<circle cx="368.32" cy="86.71" r="0.6"/>
<circle cx="370.34" cy="76.51" r="0.6"/>
<circle cx="379.32" cy="88.69" r="0.6"/>
<circle cx="376.16" cy="70.38" r="0.6"/>
<circle cx="379.29" cy="70.56" r="0.6"/>
<circle cx="382.05" cy="67.58" r="0.6"/>
<circle cx="382.24" cy="103.43" r="0.6"/>
<circle cx="381.52" cy="80.99" r="0.6"/>
<circle cx="388.13" cy="73.22" r="0.6"/>
<circle cx="386.88" cy="52.26" r="0.6"/>
<circle cx="389.37" cy="80.83" r="0.6"/>
<circle cx="389.91" cy="64.32" r="0.6"/>
<circle cx="370.89" cy="45.68" r="0.6"/>
<circle cx="368.62" cy="76.1" r="0.6"/>
<circle cx="371.46" cy="77.43" r="0.6"/>
<circle cx="367.62" cy="86.84" r="0.6"/>
<circle cx="387.47" cy="98.21" r="0.6"/>
<circle cx="368.4" cy="63.76" r="0.6"/>
<circle cx="375.88" cy="76.87" r="0.6"/>
<circle cx="370.43" cy="78.3" r="0.6"/>
<circle cx="383.42" cy="43.65" r="0.6"/>
<circle cx="368.12" cy="95.8" r="0.6"/>
<circle cx="378.65" cy="74.92" r="0.6"/>
<circle cx="383.51" cy="92.8" r="0.6"/>
<circle cx="370.1" cy="69.63" r="0.6"/>
<circle cx="366.01" cy="72.86" r="0.6"/>
<circle cx="379.9" cy="94.39" r="0.6"/>
<circle cx="368.96" cy="77.53" r="0.6"/>
<circle cx="369.98" cy="67.92" r="0.6"/>
<circle cx="391.74" cy="49.35" r="0.6"/>
<circle cx="390.03" cy="71.54" r="0.6"/>
<circle cx="390.69" cy="72.89" r="0.6"/>
<circle cx="377.48" cy="74.61" r="0.6"/>
<circle cx="377.61" cy="88.55" r="0.6"/>
<circle cx="378.91" cy="93.46" r="0.6"/>
<circle cx="365.36" cy="67.49" r="0.6"/>
<circle cx="383.93" cy="70.71" r="0.6"/>
<circle cx="377.26" cy="83.35" r="0.6"/>
<circle cx="384.96" cy="83.65" r="0.6"/>
<circle cx="369.46" cy="70.47" r="0.6"/>
<circle cx="378.84" cy="45.47" r="0.6"/>
<circle cx="386.65" cy="72.85" r="0.6"/>
<circle cx="384.03" cy="62.78" r="0.6"/>
<circle cx="375.92" cy="91.37" r="0.6"/>
<circle cx="381.19" cy="116.8" r="0.6"/>
<circle cx="386.73" cy="76.9" r="0.6"/>
<circle cx="371.97" cy="55.6" r="0.6"/>
<circle cx="386.01" cy="88.38" r="0.6"/>
<circle cx="387" cy="101.24" r="0.6"/>
<circle cx="388.76" cy="58.65" r="0.6"/>
<circle cx="383.76" cy="73.14" r="0.6"/>
<circle cx="375.96" cy="100.17" r="0.6"/>
<circle cx="384.51" cy="63.89" r="0.6"/>
<circle cx="377.66" cy="70.14" r="0.6"/>
<circle cx="365.29" cy="88.45" r="0.6"/>
<circle cx="381.85" cy="59.6" r="0.6"/>
<circle cx="371.27" cy="55.73" r="0.6"/>
<circle cx="374.12" cy="83.06" r="0.6"/>
<circle cx="382.81" cy="91.9" r="0.6"/>
<circle cx="375.52" cy="83.32" r="0.6"/>
<circle cx="392" cy="89.82" r="0.6"/>
<circle cx="385.57" cy="93.25" r="0.6"/>
<circle cx="391.46" cy="56.08" r="0.6"/>
<circle cx="384.95" cy="72.95" r="0.6"/>
<circle cx="371.93" cy="79.57" r="0.6"/>
<circle cx="370.28" cy="73.1" r="0.6"/>
<circle cx="375.14" cy="66.87" r="0.6"/>
<circle cx="389.45" cy="69.44" r="0.6"/>
<circle cx="379.85" cy="113.39" r="0.6"/>
<circle cx="380.34" cy="77.64" r="0.6"/>
<circle cx="391.87" cy="92.76" r="0.6"/>
<circle cx="367.06" cy="95.79" r="0.6"/>
<circle cx="381.13" cy="75.54" r="0.6"/>
<circle cx="390.11" cy="80.16" r="0.6"/>
<circle cx="369.32" cy="84.42" r="0.6"/>
<circle cx="378.38" cy="74.24" r="0.6"/>
<circle cx="381.5" cy="43.39" r="0.6"/>
<circle cx="376.36" cy="63.31" r="0.6"/>
<circle cx="379.22" cy="87.02" r="0.6"/>
<circle cx="372.72" cy="83.72" r="0.6"/>
<circle cx="382.69" cy="86.71" r="0.6"/>
<circle cx="384.35" cy="80.17" r="0.6"/>
<circle cx="372.99" cy="65.03" r="0.6"/>
<circle cx="366.15" cy="74.84" r="0.6"/>
<circle cx="369.23" cy="75.37" r="0.6"/>
<circle cx="389.23" cy="90.11" r="0.6"/>
<circle cx="385.21" cy="52.28" r="0.6"/>
<circle cx="366.98" cy="62.41" r="0.6"/>
<circle cx="389.45" cy="90.62" r="0.6"/>
<circle cx="391.28" cy="68.76" r="0.6"/>
<circle cx="371.58" cy="109.32" r="0.6"/>
<circle cx="384.51" cy="80.75" r="0.6"/>
<circle cx="377.65" cy="49.49" r="0.6"/>
<circle cx="381.3" cy="79.31" r="0.6"/>
<circle cx="368.11" cy="87.08" r="0.6"/>
<circle cx="370.5" cy="86.97" r="0.6"/>
<circle cx="366.41" cy="83.1" r="0.6"/>
<circle cx="376.96" cy="77.1" r="0.6"/>
<circle cx="383.03" cy="86.59" r="0.6"/>
<circle cx="380.72" cy="72.7" r="0.6"/>
<circle cx="376.33" cy="72.69" r="0.6"/>
<circle cx="391.94" cy="93.24" r="0.6"/>
<circle cx="390.72" cy="76.84" r="0.6"/>
<circle cx="368.07" cy="86.37" r="0.6"/>
<circle cx="389.1" cy="71.48" r="0.6"/>
<circle cx="374.7" cy="95.5" r="0.6"/>
<circle cx="372.33" cy="83.17" r="0.6"/>
<circle cx="380.98" cy="92.85" r="0.6"/>
<circle cx="382.09" cy="75.6" r="0.6"/>
<circle cx="371.72" cy="85.14" r="0.6"/>
<circle cx="391.45" cy="50.25" r="0.6"/>
<circle cx="366.07" cy="90.74" r="0.6"/>
<circle cx="366.64" cy="77.78" r="0.6"/>
<circle cx="381.83" cy="60.76" r="0.6"/>
<circle cx="367.77" cy="81.19" r="0.6"/>
<circle cx="367.33" cy="77.24" r="0.6"/>
<circle cx="383.26" cy="95.11" r="0.6"/>
<circle cx="375.08" cy="82.15" r="0.6"/>
<circle cx="377.92" cy="72.56" r="0.6"/>
<circle cx="385.11" cy="62.97" r="0.6"/>
<circle cx="387.64" cy="69.3" r="0.6"/>
<circle cx="386.85" cy="72.52" r="0.6"/>
<circle cx="381.84" cy="74.62" r="0.6"/>
<circle cx="376.46" cy="85.7" r="0.6"/>
<circle cx="371.97" cy="70.71" r="0.6"/>
<circle cx="382.65" cy="88.65" r="0.6"/>
<circle cx="391.71" cy="84.08" r="0.6"/>
<circle cx="385.14" cy="59.62" r="0.6"/>
<circle cx="389.86" cy="88.22" r="0.6"/>
<circle cx="367.62" cy="69.72" r="0.6"/>
<circle cx="388.63" cy="70.51" r="0.6"/>
<circle cx="380.23" cy="72.95" r="0.6"/>
<circle cx="378.09" cy="80.59" r="0.6"/>
<circle cx="385.94" cy="86.94" r="0.6"/>
<circle cx="367.05" cy="70.94" r="0.6"/>
<circle cx="367.21" cy="55.14" r="0.6"/>
<circle cx="373.2" cy="79.26" r="0.6"/>
<circle cx="372.64" cy="97.69" r="0.6"/>
<circle cx="368.86" cy="90.32" r="0.6"/>
<circle cx="374.89" cy="57.73" r="0.6"/>
<circle cx="368.17" cy="80.52" r="0.6"/>
<circle cx="389.8" cy="93.88" r="0.6"/>
<circle cx="390.38" cy="62.56" r="0.6"/>
<circle cx="386.68" cy="83.8" r="0.6"/>
<circle cx="373.23" cy="81.79" r="0.6"/>
<circle cx="390.24" cy="62.54" r="0.6"/>
<circle cx="389.16" cy="75.65" r="0.6"/>
<circle cx="374.87" cy="62.14" r="0.6"/>
<circle cx="374.81" cy="87.1" r="0.6"/>
<circle cx="370.26" cy="67.09" r="0.6"/>
<circle cx="380.22" cy="70.55" r="0.6"/>
<circle cx="387.58" cy="92.98" r="0.6"/>
<circle cx="380.2" cy="64.98" r="0.6"/>
<circle cx="388.78" cy="54.03" r="0.6"/>
<circle cx="372.6" cy="58.62" r="0.6"/>
<circle cx="379.69" cy="73.38" r="0.6"/>
<circle cx="380.32" cy="55.35" r="0.6"/>
<circle cx="386.72" cy="80.17" r="0.6"/>
<circle cx="366.73" cy="100.08" r="0.6"/>
<circle cx="367.27" cy="83.15" r="0.6"/>
<circle cx="367.21" cy="78.3" r="0.6"/>
<circle cx="367.29" cy="106.54" r="0.6"/>
<circle cx="382.12" cy="61.05" r="0.6"/>
<circle cx="382.52" cy="57.06" r="0.6"/>
<circle cx="371.63" cy="71.26" r="0.6"/>
<circle cx="379.08" cy="51.69" r="0.6"/>
<circle cx="385.65" cy="86.09" r="0.6"/>
<circle cx="391.14" cy="67.74" r="0.6"/>
<circle cx="383.15" cy="93.66" r="0.6"/>
<circle cx="384.47" cy="75.08" r="0.6"/>
<circle cx="384.12" cy="63.04" r="0.6"/>
<circle cx="387.31" cy="83.33" r="0.6"/>
<circle cx="383" cy="60" r="0.6"/>
<circle cx="387.51" cy="96.55" r="0.6"/>
<circle cx="388.99" cy="55.91" r="0.6"/>
<circle cx="379.14" cy="81.19" r="0.6"/>
<circle cx="384.17" cy="70.93" r="0.6"/>
<circle cx="376.35" cy="90.06" r="0.6"/>
<circle cx="368.95" cy="78.23" r="0.6"/>
<circle cx="375.14" cy="119.94" r="0.6"/>
<circle cx="369.53" cy="71.51" r="0.6"/>
<circle cx="372.88" cy="61.26" r="0.6"/>
<circle cx="391.18" cy="64.27" r="0.6"/>
<circle cx="368.1" cy="71.3" r="0.6"/>
<circle cx="382.5" cy="74.32" r="0.6"/>
<circle cx="366.68" cy="84.73" r="0.6"/>
<circle cx="377.39" cy="103.05" r="0.6"/>
<circle cx="365.98" cy="91.7" r="0.6"/>
<circle cx="367.93" cy="71.76" r="0.6"/>
<circle cx="371.36" cy="66.55" r="0.6"/>
<circle cx="384.37" cy="84.28" r="0.6"/>
<circle cx="369.99" cy="81.55" r="0.6"/>
<circle cx="372.59" cy="64.45" r="0.6"/>
<circle cx="373.42" cy="54.36" r="0.6"/>
<circle cx="379.8" cy="69.05" r="0.6"/>
<circle cx="372.03" cy="90.81" r="0.6"/>
<circle cx="388.96" cy="64.48" r="0.6"/>
<circle cx="379.78" cy="82.55" r="0.6"/>
<circle cx="390.84" cy="85.91" r="0.6"/>
<circle cx="366.34" cy="74.68" r="0.6"/>
<circle cx="390.58" cy="71.28" r="0.6"/>
<circle cx="379.24" cy="89.26" r="0.6"/>
<circle cx="378.93" cy="82.53" r="0.6"/>
<circle cx="382.75" cy="91.44" r="0.6"/>
<circle cx="365.29" cy="89.47" r="0.6"/>
<circle cx="386.51" cy="73.42" r="0.6"/>
<circle cx="384.26" cy="82.42" r="0.6"/>
<circle cx="369.24" cy="81" r="0.6"/>
<circle cx="373.69" cy="77.51" r="0.6"/>
<circle cx="378.94" cy="46.79" r="0.6"/>
<circle cx="382.2" cy="64.46" r="0.6"/>
<circle cx="379.43" cy="76.28" r="0.6"/>
<circle cx="369.07" cy="75.7" r="0.6"/>
<circle cx="387.18" cy="76.54" r="0.6"/>
<circle cx="387.85" cy="73.18" r="0.6"/>
<circle cx="372.29" cy="81.16" r="0.6"/>
<circle cx="384.35" cy="62.29" r="0.6"/>
<circle cx="377.65" cy="66.35" r="0.6"/>
<circle cx="390.8" cy="100.11" r="0.6"/>
<circle cx="373.2" cy="90.51" r="0.6"/>
<circle cx="386.31" cy="103.64" r="0.6"/>
<circle cx="367.46" cy="59.79" r="0.6"/>
<circle cx="387.31" cy="71.13" r="0.6"/>
<circle cx="379.19" cy="58.37" r="0.6"/>
<circle cx="369.25" cy="69.66" r="0.6"/>
<circle cx="373.39" cy="86.62" r="0.6"/>
<circle cx="367.05" cy="81.33" r="0.6"/>
<circle cx="384.31" cy="60.61" r="0.6"/>
<circle cx="374.71" cy="78.41" r="0.6"/>
<circle cx="375.64" cy="82.08" r="0.6"/>
<circle cx="377.47" cy="49.27" r="0.6"/>
<circle cx="382.66" cy="81.39" r="0.6"/>
<circle cx="365.33" cy="92.03" r="0.6"/>
<circle cx="371.41" cy="59.98" r="0.6"/>
<circle cx="380.23" cy="77.81" r="0.6"/>
<circle cx="391.77" cy="75.25" r="0.6"/>
<circle cx="386.59" cy="70.44" r="0.6"/>
<circle cx="372.84" cy="56.59" r="0.6"/>
<circle cx="375.15" cy="87.54" r="0.6"/>
<circle cx="374.11" cy="78.79" r="0.6"/>
<circle cx="375.59" cy="81.33" r="0.6"/>
<circle cx="370.4" cy="85.4" r="0.6"/>
<circle cx="384.75" cy="92.39" r="0.6"/>
<circle cx="380.2" cy="45.32" r="0.6"/>
<circle cx="384.54" cy="89.03" r="0.6"/>
<circle cx="367.49" cy="52.29" r="0.6"/>
<circle cx="368.8" cy="57.82" r="0.6"/>
<circle cx="384.12" cy="63.68" r="0.6"/>
<circle cx="369.86" cy="98.21" r="0.6"/>
<circle cx="381" cy="59.99" r="0.6"/>
<circle cx="367.43" cy="74.56" r="0.6"/>
<circle cx="368.35" cy="67.46" r="0.6"/>
<circle cx="375.98" cy="46.69" r="0.6"/>
<circle cx="376.53" cy="61.49" r="0.6"/>
<circle cx="378.81" cy="90.58" r="0.6"/>
<circle cx="387.17" cy="95.43" r="0.6"/>
<circle cx="375.42" cy="83.06" r="0.6"/>
<circle cx="365.42" cy="62.84" r="0.6"/>
<circle cx="375.82" cy="88.43" r="0.6"/>
<circle cx="386.32" cy="114.6" r="0.6"/>
<circle cx="382.83" cy="77.95" r="0.6"/>
<circle cx="373.94" cy="77.55" r="0.6"/>
<circle cx="374.24" cy="79.78" r="0.6"/>
<circle cx="375.2" cy="81.33" r="0.6"/>
<circle cx="378.75" cy="69.34" r="0.6"/>
<circle cx="381.51" cy="101.91" r="0.6"/>
<circle cx="369.28" cy="72.57" r="0.6"/>
<circle cx="379.8" cy="106.74" r="0.6"/>
<circle cx="374.52" cy="83.76" r="0.6"/>
<circle cx="384.26" cy="75.81" r="0.6"/>
<circle cx="391.64" cy="98.51" r="0.6"/>
<circle cx="387.56" cy="78.09" r="0.6"/>
<circle cx="370.32" cy="56.76" r="0.6"/>
<circle cx="370.34" cy="82.66" r="0.6"/>
<circle cx="367.25" cy="75.15" r="0.6"/>
<circle cx="383.82" cy="56.92" r="0.6"/>
<circle cx="373.89" cy="63.49" r="0.6"/>
<circle cx="377.5" cy="81.67" r="0.6"/>
<circle cx="368.35" cy="68.12" r="0.6"/>
<circle cx="389.41" cy="77.08" r="0.6"/>
<circle cx="379.67" cy="92.93" r="0.6"/>
<circle cx="372.14" cy="82.67" r="0.6"/>
<circle cx="389.55" cy="49.26" r="0.6"/>
<circle cx="381.24" cy="77.11" r="0.6"/>
<circle cx="368.31" cy="70.42" r="0.6"/>
<circle cx="389.22" cy="86.39" r="0.6"/>
<circle cx="371.5" cy="100.09" r="0.6"/>
<circle cx="370.01" cy="87.9" r="0.6"/>
<circle cx="379.79" cy="72.53" r="0.6"/>
<circle cx="369.86" cy="74.1" r="0.6"/>
<circle cx="391.65" cy="56.19" r="0.6"/>
<circle cx="373.31" cy="83.63" r="0.6"/>
<circle cx="383.12" cy="76.88" r="0.6"/>
<circle cx="380.98" cy="89.87" r="0.6"/>
<circle cx="386.7" cy="66.23" r="0.6"/>
<circle cx="377.64" cy="74.81" r="0.6"/>
<circle cx="368.86" cy="89.93" r="0.6"/>
<circle cx="369.69" cy="63.55" r="0.6"/>
<circle cx="379.03" cy="77.39" r="0.6"/>
<circle cx="373.97" cy="57.2" r="0.6"/>
<circle cx="382.33" cy="54.92" r="0.6"/>
<circle cx="368.91" cy="70.73" r="0.6"/>
<circle cx="390.9" cy="88.92" r="0.6"/>
<circle cx="376.11" cy="85.34" r="0.6"/>
<circle cx="381.84" cy="84.82" r="0.6"/>
<circle cx="385.3" cy="98.31" r="0.6"/>
<circle cx="378.12" cy="48.31" r="0.6"/>
<circle cx="388.09" cy="76.72" r="0.6"/>
<circle cx="376.04" cy="92.82" r="0.6"/>
<circle cx="389.44" cy="68.29" r="0.6"/>
<circle cx="379.2" cy="90.93" r="0.6"/>
<circle cx="389.42" cy="78.19" r="0.6"/>
<circle cx="373.66" cy="53.98" r="0.6"/>
<circle cx="389.3" cy="67.99" r="0.6"/>
<circle cx="384.76" cy="95.47" r="0.6"/>
<circle cx="373.23" cy="89.62" r="0.6"/>
<circle cx="381.02" cy="69.07" r="0.6"/>
<circle cx="377.07" cy="72.64" r="0.6"/>
<circle cx="378.57" cy="79.54" r="0.6"/>
<circle cx="383.76" cy="72.95" r="0.6"/>
<circle cx="379.21" cy="74.95" r="0.6"/>
<circle cx="375.68" cy="63.5" r="0.6"/>
<circle cx="371.37" cy="46.97" r="0.6"/>
<circle cx="391.09" cy="62.57" r="0.6"/>
<circle cx="382.97" cy="65.72" r="0.6"/>
<circle cx="386.74" cy="87" r="0.6"/>
<circle cx="370.99" cy="76.19" r="0.6"/>
<circle cx="389.39" cy="94.42" r="0.6"/>
<circle cx="367.66" cy="73.84" r="0.6"/>
<circle cx="379.51" cy="82.94" r="0.6"/>
<circle cx="390.68" cy="65.02" r="0.6"/>
<circle cx="373.08" cy="75.75" r="0.6"/>
<circle cx="373.77" cy="47.54" r="0.6"/>
<circle cx="387.02" cy="64.06" r="0.6"/>
<circle cx="375.73" cy="87.65" r="0.6"/>
<circle cx="366.24" cy="60.8" r="0.6"/>
<circle cx="365.84" cy="65.86" r="0.6"/>
<circle cx="378.46" cy="83.15" r="0.6"/>
<circle cx="390.22" cy="59.66" r="0.6"/>
<circle cx="370.58" cy="78.11" r="0.6"/>
<circle cx="372.97" cy="48.65" r="0.6"/>
<circle cx="370.28" cy="90.13" r="0.6"/>
<circle cx="387.62" cy="85.71" r="0.6"/>
<circle cx="369.64" cy="62.87" r="0.6"/>
<circle cx="388.75" cy="66.12" r="0.6"/>
<circle cx="382.07" cy="76.07" r="0.6"/>
<circle cx="370.17" cy="72.43" r="0.6"/>
<circle cx="367.86" cy="78.95" r="0.6"/>
<circle cx="384.6" cy="87.72" r="0.6"/>
<circle cx="388.48" cy="47.25" r="0.6"/>
<circle cx="384.25" cy="61.08" r="0.6"/>
<circle cx="390.32" cy="59.13" r="0.6"/>
<circle cx="377.02" cy="66.79" r="0.6"/>
<circle cx="373.29" cy="70.92" r="0.6"/>
<circle cx="384.18" cy="72.79" r="0.6"/>
<circle cx="371.36" cy="67.2" r="0.6"/>
<circle cx="382.94" cy="72.29" r="0.6"/>
<circle cx="382.87" cy="89.25" r="0.6"/>
<circle cx="388.88" cy="84.57" r="0.6"/>
<circle cx="373.13" cy="81.35" r="0.6"/>
<circle cx="390.02" cy="81.57" r="0.6"/>
<circle cx="382.28" cy="85.85" r="0.6"/>
<circle cx="367.43" cy="60.36" r="0.6"/>
<circle cx="379.26" cy="77.44" r="0.6"/>
<circle cx="379.33" cy="57.09" r="0.6"/>
<circle cx="372.68" cy="70.31" r="0.6"/>
</g>
<line x1="314.8" y1="44.77" x2="314.8" y2="77.45" stroke="#45449a" stroke-width="0.9"/>
<line x1="314.8" y1="106.26" x2="314.8" y2="124.54" stroke="#45449a" stroke-width="0.9"/>
<rect x="291.3" y="77.45" width="47.2" height="28.81" fill="none" stroke="#45449a" stroke-width="1"/>
<line x1="291.3" y1="93.74" x2="338.5" y2="93.74" stroke="#45449a" stroke-width="1.7"/>
<line x1="378" y1="43.66" x2="378" y2="67.15" stroke="#cc3036" stroke-width="0.9"/>
<line x1="378" y1="83.33" x2="378" y2="105.15" stroke="#cc3036" stroke-width="0.9"/>
<rect x="354.3" y="67.15" width="47.3" height="16.18" fill="none" stroke="#cc3036" stroke-width="1"/>
<line x1="354.3" y1="74.46" x2="401.6" y2="74.46" stroke="#cc3036" stroke-width="1.7"/>
<rect x="277" y="20" width="138.3" height="145.8" fill="none" stroke="#a8a8a8" stroke-width="0.9"/>
<line x1="275" y1="160" x2="277" y2="160" stroke="#555" stroke-width="0.7"/>
<text x="274" y="162.9" font-size="8" text-anchor="end" fill="#111" stroke="#111" stroke-width="0.25">0.0</text>
<line x1="275" y1="132.3" x2="277" y2="132.3" stroke="#555" stroke-width="0.7"/>
<text x="274" y="135.2" font-size="8" text-anchor="end" fill="#111" stroke="#111" stroke-width="0.25">2.5</text>
<line x1="275" y1="104.6" x2="277" y2="104.6" stroke="#555" stroke-width="0.7"/>
<text x="274" y="107.5" font-size="8" text-anchor="end" fill="#111" stroke="#111" stroke-width="0.25">5.0</text>
<line x1="275" y1="76.9" x2="277" y2="76.9" stroke="#555" stroke-width="0.7"/>
<text x="274" y="79.8" font-size="8" text-anchor="end" fill="#111" stroke="#111" stroke-width="0.25">7.5</text>
<line x1="275" y1="49.2" x2="277" y2="49.2" stroke="#555" stroke-width="0.7"/>
<text x="274" y="52.1" font-size="8" text-anchor="end" fill="#111" stroke="#111" stroke-width="0.25">10.0</text>
<line x1="275" y1="21.5" x2="277" y2="21.5" stroke="#555" stroke-width="0.7"/>
<text x="274" y="24.4" font-size="8" text-anchor="end" fill="#111" stroke="#111" stroke-width="0.25">12.5</text>
<line x1="314.8" y1="165.8" x2="314.8" y2="167.8" stroke="#555" stroke-width="0.7"/>
<line x1="378" y1="165.8" x2="378" y2="167.8" stroke="#555" stroke-width="0.7"/>
<text x="253.6" y="163.7" font-size="10.6" textLength="129.8" lengthAdjust="spacingAndGlyphs" transform="rotate(-90 253.6 163.7)" fill="#111" stroke="#111" stroke-width="0.4">TOP2A mRNA expression</text>
<text x="318" y="144.6" font-size="11.6" textLength="60.8" lengthAdjust="spacingAndGlyphs" fill="#111">FDR=5e-02</text>
<text x="296.5" y="183.2" font-size="12.8" textLength="41.8" lengthAdjust="spacingAndGlyphs" stroke="#000" stroke-width="0.25">Normal</text>
<text x="363.2" y="183.2" font-size="12.8" textLength="34.3" lengthAdjust="spacingAndGlyphs" stroke="#000" stroke-width="0.25">THCA</text>
</g>
<g id="C">
<text x="467.6" y="27.6" font-size="18.6" font-weight="bold">C</text>
<rect x="522.8" y="16.1" width="151.8" height="135.9" fill="#fff" stroke="#555" stroke-width="0.9"/>
<line x1="544.1" y1="63.3" x2="544.1" y2="87.7" stroke="#555" stroke-width="1"/>
<line x1="544.1" y1="106" x2="544.1" y2="132.9" stroke="#555" stroke-width="1"/>
<rect x="530.5" y="87.7" width="27.3" height="18.3" fill="#fdb7c6" stroke="#3a3035" stroke-width="0.9"/>
<line x1="530.5" y1="95.2" x2="557.8" y2="95.2" stroke="#2a2226" stroke-width="1.5"/>
<line x1="580.5" y1="66.6" x2="580.5" y2="91.3" stroke="#555" stroke-width="1"/>
<line x1="580.5" y1="110.4" x2="580.5" y2="135.4" stroke="#555" stroke-width="1"/>
<rect x="566.6" y="91.3" width="27.8" height="19.1" fill="#fdb7c6" stroke="#3a3035" stroke-width="0.9"/>
<line x1="566.6" y1="101" x2="594.4" y2="101" stroke="#2a2226" stroke-width="1.5"/>
<line x1="616.8" y1="63.3" x2="616.8" y2="88.8" stroke="#555" stroke-width="1"/>
<line x1="616.8" y1="107.1" x2="616.8" y2="131.3" stroke="#555" stroke-width="1"/>
<rect x="603.2" y="88.8" width="27.6" height="18.3" fill="#fdb7c6" stroke="#3a3035" stroke-width="0.9"/>
<line x1="603.2" y1="96.6" x2="630.8" y2="96.6" stroke="#2a2226" stroke-width="1.5"/>
<line x1="653.4" y1="45.5" x2="653.4" y2="83.8" stroke="#555" stroke-width="1"/>
<line x1="653.4" y1="109.3" x2="653.4" y2="127.4" stroke="#555" stroke-width="1"/>
<rect x="639.6" y="83.8" width="27.8" height="25.5" fill="#fdb7c6" stroke="#3a3035" stroke-width="0.9"/>
<line x1="639.6" y1="93.5" x2="667.4" y2="93.5" stroke="#2a2226" stroke-width="1.5"/>
<line x1="520.3" y1="123.8" x2="522.8" y2="123.8" stroke="#333" stroke-width="0.9"/>
<text x="517.5" y="127.1" font-size="9" text-anchor="end" font-weight="bold" fill="#222">0</text>
<line x1="520.3" y1="87.14" x2="522.8" y2="87.14" stroke="#333" stroke-width="0.9"/>
<text x="517.5" y="90.44" font-size="9" text-anchor="end" font-weight="bold" fill="#222">2</text>
<line x1="520.3" y1="50.48" x2="522.8" y2="50.48" stroke="#333" stroke-width="0.9"/>
<text x="517.5" y="53.78" font-size="9" text-anchor="end" font-weight="bold" fill="#222">4</text>
<line x1="544.1" y1="152" x2="544.1" y2="154.8" stroke="#333" stroke-width="0.9"/>
<text x="544.6" y="164.6" font-size="10.8" text-anchor="middle" fill="#111" stroke="#111" stroke-width="0.45" letter-spacing="0.9">I</text>
<line x1="580.5" y1="152" x2="580.5" y2="154.8" stroke="#333" stroke-width="0.9"/>
<text x="581" y="164.6" font-size="10.8" text-anchor="middle" fill="#111" stroke="#111" stroke-width="0.45" letter-spacing="0.9">II</text>
<line x1="616.8" y1="152" x2="616.8" y2="154.8" stroke="#333" stroke-width="0.9"/>
<text x="617.3" y="164.6" font-size="10.8" text-anchor="middle" fill="#111" stroke="#111" stroke-width="0.45" letter-spacing="0.9">III</text>
<line x1="653.4" y1="152" x2="653.4" y2="154.8" stroke="#333" stroke-width="0.9"/>
<text x="653.9" y="164.6" font-size="10.8" text-anchor="middle" fill="#111" stroke="#111" stroke-width="0.45" letter-spacing="0.9">IV</text>
<text x="604.8" y="179.5" font-size="10.6" text-anchor="middle" fill="#111" stroke="#111" stroke-width="0.4">Stage</text>
<text x="580.5" y="42" font-size="11" textLength="40.8" lengthAdjust="spacingAndGlyphs" fill="#111">P=0.657</text>
<text x="502.2" y="151.7" font-size="11.3" textLength="131" lengthAdjust="spacingAndGlyphs" transform="rotate(-90 502.2 151.7)" fill="#111" stroke="#111" stroke-width="0.4">TOP2A mRNA expression</text>
</g>
<g id="D">
<text x="9.3" y="206.1" font-size="18.8" font-weight="bold">D</text>
<rect x="46.3" y="214.3" width="146.7" height="136.4" fill="#fff" stroke="none" stroke-width="1"/>
<line x1="53.8" y1="214.3" x2="53.8" y2="350.7" stroke="#ececec" stroke-width="0.7"/>
<line x1="86.95" y1="214.3" x2="86.95" y2="350.7" stroke="#ececec" stroke-width="0.7"/>
<line x1="120.1" y1="214.3" x2="120.1" y2="350.7" stroke="#ececec" stroke-width="0.7"/>
<line x1="153.25" y1="214.3" x2="153.25" y2="350.7" stroke="#ececec" stroke-width="0.7"/>
<line x1="186.4" y1="214.3" x2="186.4" y2="350.7" stroke="#ececec" stroke-width="0.7"/>
<line x1="70.38" y1="214.3" x2="70.38" y2="350.7" stroke="#f4f4f4" stroke-width="0.6"/>
<line x1="103.53" y1="214.3" x2="103.53" y2="350.7" stroke="#f4f4f4" stroke-width="0.6"/>
<line x1="136.68" y1="214.3" x2="136.68" y2="350.7" stroke="#f4f4f4" stroke-width="0.6"/>
<line x1="169.82" y1="214.3" x2="169.82" y2="350.7" stroke="#f4f4f4" stroke-width="0.6"/>
<line x1="46.3" y1="345.5" x2="193" y2="345.5" stroke="#ececec" stroke-width="0.7"/>
<line x1="46.3" y1="314.12" x2="193" y2="314.12" stroke="#ececec" stroke-width="0.7"/>
<line x1="46.3" y1="282.75" x2="193" y2="282.75" stroke="#ececec" stroke-width="0.7"/>
<line x1="46.3" y1="251.38" x2="193" y2="251.38" stroke="#ececec" stroke-width="0.7"/>
<line x1="46.3" y1="220" x2="193" y2="220" stroke="#ececec" stroke-width="0.7"/>
<line x1="46.3" y1="329.81" x2="193" y2="329.81" stroke="#f4f4f4" stroke-width="0.6"/>
<line x1="46.3" y1="298.44" x2="193" y2="298.44" stroke="#f4f4f4" stroke-width="0.6"/>
<line x1="46.3" y1="267.06" x2="193" y2="267.06" stroke="#f4f4f4" stroke-width="0.6"/>
<line x1="46.3" y1="235.69" x2="193" y2="235.69" stroke="#f4f4f4" stroke-width="0.6"/>
<path d="M53.8 220 H63.74 V221.25 H73.69 V223.14 H83.63 V224.77 H88.28 V225.27 H153.58 V225.27" fill="none" stroke="#e31a1f" stroke-width="0.9" stroke-dasharray="2.6 2.2"/>
<path d="M53.8 220 H60.43 V223.14 H67.06 V226.9 H73.69 V230.67 H80.32 V234.43 H86.95 V237.32 H90.93 V237.82 H153.58 V237.82" fill="none" stroke="#e31a1f" stroke-width="0.9" stroke-dasharray="2.6 2.2"/>
<path d="M53.8 220 H59.1 V221.88 H63.08 V226.28 H67.06 V230.04 H72.36 V233.18 H77.67 V235.69 H83.63 V237.32 H99.02 V237.82 H158.42 V237.82" fill="none" stroke="#1d4f91" stroke-width="0.9" stroke-dasharray="2.6 2.2"/>
<path d="M53.8 220 H57.11 V225.02 H59.77 V232.55 H62.42 V241.34 H65.07 V248.87 H68.92 V254.76 H73.69 V257.65 H77.67 V261.16 H82.77 V264.05 H99.02 V276.22 H158.42 V276.22" fill="none" stroke="#1d4f91" stroke-width="0.9" stroke-dasharray="2.6 2.2"/>
<path d="M53.8 220 H56.45 V221.88 H58.44 V225.02 H60.43 V228.78 H61.76 V232.55 H63.08 V236.31 H64.41 V239.45 H65.73 V241.96 H67.72 V244.85 H71.7 V245.73 H74.35 V248.24 H77.67 V250.12 H81.65 V251.25 H99.02 V258.9 H158.42 V258.9" fill="none" stroke="#1d4f91" stroke-width="1.5"/>
<path d="M67.35 244.85H70.75M69.05 243.15V246.55" stroke="#1d4f91" stroke-width="0.9" fill="none"/>
<path d="M69.34 244.85H72.74M71.04 243.15V246.55" stroke="#1d4f91" stroke-width="0.9" fill="none"/>
<path d="M71.33 245.73H74.73M73.03 244.03V247.43" stroke="#1d4f91" stroke-width="0.9" fill="none"/>
<path d="M73.98 248.24H77.38M75.68 246.54V249.94" stroke="#1d4f91" stroke-width="0.9" fill="none"/>
<path d="M77.29 250.12H80.69M78.99 248.42V251.82" stroke="#1d4f91" stroke-width="0.9" fill="none"/>
<path d="M81.93 251.25H85.33M83.63 249.55V252.95" stroke="#1d4f91" stroke-width="0.9" fill="none"/>
<path d="M85.25 251.25H88.65M86.95 249.55V252.95" stroke="#1d4f91" stroke-width="0.9" fill="none"/>
<path d="M89.23 251.25H92.63M90.93 249.55V252.95" stroke="#1d4f91" stroke-width="0.9" fill="none"/>
<path d="M91.88 251.25H95.28M93.58 249.55V252.95" stroke="#1d4f91" stroke-width="0.9" fill="none"/>
<path d="M93.87 251.25H97.27M95.57 249.55V252.95" stroke="#1d4f91" stroke-width="0.9" fill="none"/>
<path d="M106.47 258.9H109.87M108.17 257.2V260.6" stroke="#1d4f91" stroke-width="0.9" fill="none"/>
<path d="M109.12 258.9H112.52M110.82 257.2V260.6" stroke="#1d4f91" stroke-width="0.9" fill="none"/>
<path d="M115.75 258.9H119.15M117.45 257.2V260.6" stroke="#1d4f91" stroke-width="0.9" fill="none"/>
<path d="M119.06 258.9H122.46M120.76 257.2V260.6" stroke="#1d4f91" stroke-width="0.9" fill="none"/>
<path d="M122.38 258.9H125.78M124.08 257.2V260.6" stroke="#1d4f91" stroke-width="0.9" fill="none"/>
<path d="M123.7 258.9H127.1M125.4 257.2V260.6" stroke="#1d4f91" stroke-width="0.9" fill="none"/>
<path d="M136.3 258.9H139.7M138 257.2V260.6" stroke="#1d4f91" stroke-width="0.9" fill="none"/>
<path d="M145.58 258.9H148.98M147.28 257.2V260.6" stroke="#1d4f91" stroke-width="0.9" fill="none"/>
<path d="M156.72 258.9H160.12M158.42 257.2V260.6" stroke="#1d4f91" stroke-width="0.9" fill="none"/>
<path d="M53.8 220 H55.13 V220.45 H56.45 V220.9 H57.78 V221.35 H59.1 V221.8 H60.43 V222.24 H61.76 V222.69 H63.08 V223.14 H64.41 V223.59 H65.73 V224.04 H67.06 V224.49 H68.39 V224.94 H69.71 V225.39 H71.04 V225.84 H72.36 V226.28 H73.69 V226.73 H75.02 V227.18 H76.34 V227.63 H77.67 V228.08 H78.99 V228.53 H80.32 V228.98 H81.65 V229.43 H82.97 V229.88 H84.3 V230.32 H85.62 V230.77 H86.95 V231.22 H88.28 V231.67 H153.58 V231.67" fill="none" stroke="#e31a1f" stroke-width="1.7"/>
<path d="M53.8 220 L55.13 220.45 L56.45 220.9 L57.78 221.35 L59.1 221.8 L60.43 222.24 L61.76 222.69 L63.08 223.14 L64.41 223.59 L65.73 224.04 L67.06 224.49 L68.39 224.94 L69.71 225.39 L71.04 225.84 L72.36 226.28 L73.69 226.73 L75.02 227.18 L76.34 227.63 L77.67 228.08 L78.99 228.53 L80.32 228.98 L81.65 229.43 L82.97 229.88 L84.3 230.32 L85.62 230.77 L86.95 231.22 L88.28 231.67" fill="none" stroke="#e31a1f" stroke-width="3.4" stroke-linecap="round" stroke-linejoin="round"/>
<path d="M87.8 231.67H91.4M89.6 229.87V233.47" stroke="#e31a1f" stroke-width="0.9" fill="none"/>
<path d="M89.79 231.67H93.39M91.59 229.87V233.47" stroke="#e31a1f" stroke-width="0.9" fill="none"/>
<path d="M91.78 231.67H95.38M93.58 229.87V233.47" stroke="#e31a1f" stroke-width="0.9" fill="none"/>
<path d="M93.11 231.67H96.71M94.91 229.87V233.47" stroke="#e31a1f" stroke-width="0.9" fill="none"/>
<path d="M95.09 231.67H98.69M96.89 229.87V233.47" stroke="#e31a1f" stroke-width="0.9" fill="none"/>
<path d="M96.42 231.67H100.02M98.22 229.87V233.47" stroke="#e31a1f" stroke-width="0.9" fill="none"/>
<path d="M98.41 231.67H102.01M100.21 229.87V233.47" stroke="#e31a1f" stroke-width="0.9" fill="none"/>
<path d="M99.74 231.67H103.34M101.54 229.87V233.47" stroke="#e31a1f" stroke-width="0.9" fill="none"/>
<path d="M101.73 231.67H105.33M103.53 229.87V233.47" stroke="#e31a1f" stroke-width="0.9" fill="none"/>
<path d="M103.71 231.67H107.31M105.51 229.87V233.47" stroke="#e31a1f" stroke-width="0.9" fill="none"/>
<path d="M105.7 231.67H109.3M107.5 229.87V233.47" stroke="#e31a1f" stroke-width="0.9" fill="none"/>
<path d="M107.69 231.67H111.29M109.49 229.87V233.47" stroke="#e31a1f" stroke-width="0.9" fill="none"/>
<path d="M109.68 231.67H113.28M111.48 229.87V233.47" stroke="#e31a1f" stroke-width="0.9" fill="none"/>
<path d="M111.67 231.67H115.27M113.47 229.87V233.47" stroke="#e31a1f" stroke-width="0.9" fill="none"/>
<path d="M113.66 231.67H117.26M115.46 229.87V233.47" stroke="#e31a1f" stroke-width="0.9" fill="none"/>
<path d="M115.65 231.67H119.25M117.45 229.87V233.47" stroke="#e31a1f" stroke-width="0.9" fill="none"/>
<path d="M117.64 231.67H121.24M119.44 229.87V233.47" stroke="#e31a1f" stroke-width="0.9" fill="none"/>
<path d="M120.29 231.67H123.89M122.09 229.87V233.47" stroke="#e31a1f" stroke-width="0.9" fill="none"/>
<path d="M122.94 231.67H126.54M124.74 229.87V233.47" stroke="#e31a1f" stroke-width="0.9" fill="none"/>
<path d="M125.59 231.67H129.19M127.39 229.87V233.47" stroke="#e31a1f" stroke-width="0.9" fill="none"/>
<path d="M128.25 231.67H131.85M130.05 229.87V233.47" stroke="#e31a1f" stroke-width="0.9" fill="none"/>
<path d="M132.22 231.67H135.82M134.02 229.87V233.47" stroke="#e31a1f" stroke-width="0.9" fill="none"/>
<path d="M136.2 231.67H139.8M138 229.87V233.47" stroke="#e31a1f" stroke-width="0.9" fill="none"/>
<path d="M138.85 231.67H142.45M140.65 229.87V233.47" stroke="#e31a1f" stroke-width="0.9" fill="none"/>
<path d="M142.17 231.67H145.77M143.97 229.87V233.47" stroke="#e31a1f" stroke-width="0.9" fill="none"/>
<path d="M144.16 231.67H147.76M145.96 229.87V233.47" stroke="#e31a1f" stroke-width="0.9" fill="none"/>
<path d="M146.15 231.67H149.75M147.95 229.87V233.47" stroke="#e31a1f" stroke-width="0.9" fill="none"/>
<path d="M148.8 231.67H152.4M150.6 229.87V233.47" stroke="#e31a1f" stroke-width="0.9" fill="none"/>
<path d="M151.78 231.67H155.38M153.58 229.87V233.47" stroke="#e31a1f" stroke-width="0.9" fill="none"/>
<line x1="88.28" y1="231.67" x2="128.06" y2="231.67" stroke="#e31a1f" stroke-width="1.9"/>
<rect x="46.3" y="214.3" width="146.7" height="136.4" fill="none" stroke="#8c8c8c" stroke-width="0.9"/>
<line x1="44.3" y1="345.5" x2="46.3" y2="345.5" stroke="#555" stroke-width="0.7"/>
<text x="43" y="348.3" font-size="7.6" text-anchor="end" fill="#111" stroke="#111" stroke-width="0.3">0.00</text>
<line x1="44.3" y1="314.12" x2="46.3" y2="314.12" stroke="#555" stroke-width="0.7"/>
<text x="43" y="316.93" font-size="7.6" text-anchor="end" fill="#111" stroke="#111" stroke-width="0.3">0.25</text>
<line x1="44.3" y1="282.75" x2="46.3" y2="282.75" stroke="#555" stroke-width="0.7"/>
<text x="43" y="285.55" font-size="7.6" text-anchor="end" fill="#111" stroke="#111" stroke-width="0.3">0.50</text>
<line x1="44.3" y1="251.38" x2="46.3" y2="251.38" stroke="#555" stroke-width="0.7"/>
<text x="43" y="254.18" font-size="7.6" text-anchor="end" fill="#111" stroke="#111" stroke-width="0.3">0.75</text>
<line x1="44.3" y1="220" x2="46.3" y2="220" stroke="#555" stroke-width="0.7"/>
<text x="43" y="222.8" font-size="7.6" text-anchor="end" fill="#111" stroke="#111" stroke-width="0.3">1.00</text>
<text x="21.4" y="324.2" font-size="12" textLength="95.6" lengthAdjust="spacingAndGlyphs" transform="rotate(-90 21.4 324.2)" fill="#111" stroke="#111" stroke-width="0.35">Survival probability</text>
<line x1="55.5" y1="290" x2="65.8" y2="290" stroke="#1d4f91" stroke-width="1.9"/>
<path d="M58.6 290H62.6M60.6 288V292" stroke="#1d4f91" stroke-width="1.1" fill="none"/>
<text x="70.8" y="293.3" font-size="9.3" textLength="50.3" lengthAdjust="spacingAndGlyphs" fill="#111" stroke="#111" stroke-width="0.2">TOP2A high</text>
<line x1="55.5" y1="302.5" x2="65.8" y2="302.5" stroke="#e31a1f" stroke-width="1.9"/>
<path d="M58.6 302.5H62.6M60.6 300.5V304.5" stroke="#e31a1f" stroke-width="1.1" fill="none"/>
<text x="70.8" y="305.8" font-size="9.3" textLength="47.2" lengthAdjust="spacingAndGlyphs" fill="#111" stroke="#111" stroke-width="0.2">TOP2A low</text>
<text x="56.4" y="326.7" font-size="9.8" textLength="88.6" lengthAdjust="spacingAndGlyphs" fill="#111" stroke="#111" stroke-width="0.3">HR=1.62 (1.30-2.03)</text>
<text x="56.4" y="338.9" font-size="9.8" textLength="34.6" lengthAdjust="spacingAndGlyphs" fill="#111" stroke="#111" stroke-width="0.3">P&lt;0.001</text>
<rect x="46.3" y="352.8" width="146.7" height="21" fill="#fff" stroke="none" stroke-width="1"/>
<line x1="53.8" y1="352.8" x2="53.8" y2="373.8" stroke="#ececec" stroke-width="0.7"/>
<line x1="86.95" y1="352.8" x2="86.95" y2="373.8" stroke="#ececec" stroke-width="0.7"/>
<line x1="120.1" y1="352.8" x2="120.1" y2="373.8" stroke="#ececec" stroke-width="0.7"/>
<line x1="153.25" y1="352.8" x2="153.25" y2="373.8" stroke="#ececec" stroke-width="0.7"/>
<line x1="186.4" y1="352.8" x2="186.4" y2="373.8" stroke="#ececec" stroke-width="0.7"/>
<line x1="46.3" y1="358.3" x2="193" y2="358.3" stroke="#efefef" stroke-width="0.7"/>
<line x1="46.3" y1="368.9" x2="193" y2="368.9" stroke="#efefef" stroke-width="0.7"/>
<rect x="46.3" y="352.8" width="146.7" height="21" fill="none" stroke="#8c8c8c" stroke-width="0.9"/>
<text x="28" y="361.5" font-size="8.6" textLength="15.5" lengthAdjust="spacingAndGlyphs" font-weight="bold" fill="#1d4f91">high</text>
<text x="30.6" y="372" font-size="8.6" textLength="12.4" lengthAdjust="spacingAndGlyphs" font-weight="bold" fill="#e23237">low</text>
<line x1="44.3" y1="358.3" x2="46.3" y2="358.3" stroke="#555" stroke-width="0.7"/>
<line x1="44.3" y1="368.9" x2="46.3" y2="368.9" stroke="#555" stroke-width="0.7"/>
<text x="53.8" y="361.1" font-size="7.7" text-anchor="middle" fill="#111" stroke="#111" stroke-width="0.2">94</text>
<text x="53.8" y="371.7" font-size="7.7" text-anchor="middle" fill="#111" stroke="#111" stroke-width="0.2">290</text>
<line x1="53.8" y1="373.8" x2="53.8" y2="376" stroke="#555" stroke-width="0.7"/>
<text x="54.2" y="384.5" font-size="9.8" text-anchor="middle" fill="#111" stroke="#111" stroke-width="0.35">0</text>
<text x="86.95" y="361.1" font-size="7.7" text-anchor="middle" fill="#111" stroke="#111" stroke-width="0.2">20</text>
<text x="86.95" y="371.7" font-size="7.7" text-anchor="middle" fill="#111" stroke="#111" stroke-width="0.2">73</text>
<line x1="86.95" y1="373.8" x2="86.95" y2="376" stroke="#555" stroke-width="0.7"/>
<text x="87.35" y="384.5" font-size="9.8" text-anchor="middle" fill="#111" stroke="#111" stroke-width="0.35">50</text>
<text x="120.1" y="361.1" font-size="7.7" text-anchor="middle" fill="#111" stroke="#111" stroke-width="0.2">7</text>
<text x="120.1" y="371.7" font-size="7.7" text-anchor="middle" fill="#111" stroke="#111" stroke-width="0.2">18</text>
<line x1="120.1" y1="373.8" x2="120.1" y2="376" stroke="#555" stroke-width="0.7"/>
<text x="120.5" y="384.5" font-size="9.8" text-anchor="middle" fill="#111" stroke="#111" stroke-width="0.35">100</text>
<text x="153.25" y="361.1" font-size="7.7" text-anchor="middle" fill="#111" stroke="#111" stroke-width="0.2">1</text>
<text x="153.25" y="371.7" font-size="7.7" text-anchor="middle" fill="#111" stroke="#111" stroke-width="0.2">6</text>
<line x1="153.25" y1="373.8" x2="153.25" y2="376" stroke="#555" stroke-width="0.7"/>
<text x="153.65" y="384.5" font-size="9.8" text-anchor="middle" fill="#111" stroke="#111" stroke-width="0.35">150</text>
<text x="186.4" y="361.1" font-size="7.7" text-anchor="middle" fill="#111" stroke="#111" stroke-width="0.2">0</text>
<text x="186.4" y="371.7" font-size="7.7" text-anchor="middle" fill="#111" stroke="#111" stroke-width="0.2">0</text>
<line x1="186.4" y1="373.8" x2="186.4" y2="376" stroke="#555" stroke-width="0.7"/>
<text x="186.8" y="384.5" font-size="9.8" text-anchor="middle" fill="#111" stroke="#111" stroke-width="0.35">200</text>
<text x="118.6" y="398.2" font-size="10.8" text-anchor="middle" fill="#111" stroke="#111" stroke-width="0.45">Time</text>
</g>
<g id="E">
<text x="223.9" y="208.2" font-size="18.6" font-weight="bold">E</text>
<rect x="275.9" y="225.6" width="155.6" height="86.5" fill="#fff" stroke="none" stroke-width="1"/>
<line x1="283.4" y1="225.6" x2="283.4" y2="312.1" stroke="#ebebeb" stroke-width="0.7"/>
<line x1="330.62" y1="225.6" x2="330.62" y2="312.1" stroke="#ebebeb" stroke-width="0.7"/>
<line x1="377.84" y1="225.6" x2="377.84" y2="312.1" stroke="#ebebeb" stroke-width="0.7"/>
<line x1="425.06" y1="225.6" x2="425.06" y2="312.1" stroke="#ebebeb" stroke-width="0.7"/>
<line x1="307.01" y1="225.6" x2="307.01" y2="312.1" stroke="#f4f4f4" stroke-width="0.6"/>
<line x1="354.23" y1="225.6" x2="354.23" y2="312.1" stroke="#f4f4f4" stroke-width="0.6"/>
<line x1="401.45" y1="225.6" x2="401.45" y2="312.1" stroke="#f4f4f4" stroke-width="0.6"/>
<line x1="275.9" y1="306.4" x2="431.5" y2="306.4" stroke="#ebebeb" stroke-width="0.7"/>
<line x1="275.9" y1="287.12" x2="431.5" y2="287.12" stroke="#ebebeb" stroke-width="0.7"/>
<line x1="275.9" y1="267.85" x2="431.5" y2="267.85" stroke="#ebebeb" stroke-width="0.7"/>
<line x1="275.9" y1="248.57" x2="431.5" y2="248.57" stroke="#ebebeb" stroke-width="0.7"/>
<line x1="275.9" y1="229.3" x2="431.5" y2="229.3" stroke="#ebebeb" stroke-width="0.7"/>
<line x1="275.9" y1="296.76" x2="431.5" y2="296.76" stroke="#f4f4f4" stroke-width="0.6"/>
<line x1="275.9" y1="277.49" x2="431.5" y2="277.49" stroke="#f4f4f4" stroke-width="0.6"/>
<line x1="275.9" y1="258.21" x2="431.5" y2="258.21" stroke="#f4f4f4" stroke-width="0.6"/>
<line x1="275.9" y1="238.94" x2="431.5" y2="238.94" stroke="#f4f4f4" stroke-width="0.6"/>
<path d="M283.4 229.3 L289.7 229.3 L289.7 230.07 L295.99 230.07 L295.99 233.15 L300.71 233.15 L300.71 235.47 L305.59 235.47 L305.59 236.62 L406.57 236.62 L406.57 236.62 L406.57 264.15 L406.57 264.15 L304.33 264.15 L304.33 259.37 L298.75 259.37 L298.75 241.64 L292.84 241.64 L292.84 234.7 L288.12 234.7 L288.12 229.3 L283.4 229.3Z" fill="#4daf4a" stroke="none" stroke-width="1" fill-opacity="0.3"/>
<path d="M283.4 229.3 L291.27 229.3 L291.27 230.07 L299.14 230.07 L299.14 233.15 L314.88 233.15 L314.88 234.31 L336.92 234.31 L336.92 234.7 L367.22 234.7 L367.22 234.7 L367.22 268.24 L367.22 268.24 L336.92 268.24 L336.92 255.51 L327.47 255.51 L327.47 252.43 L319.6 252.43 L319.6 249.35 L314.88 249.35 L314.88 246.26 L307.01 246.26 L307.01 243.95 L299.14 243.95 L299.14 240.09 L294.42 240.09 L294.42 235.47 L289.7 235.47 L289.7 229.3 L283.4 229.3Z" fill="#1b4f9c" stroke="none" stroke-width="1" fill-opacity="0.38"/>
<path d="M283.4 229.3 L292.84 229.3 L292.84 229.69 L303.07 229.69 L303.07 230.84 L314.88 230.84 L314.88 232.15 L322.75 232.15 L322.75 232.77 L423.88 232.77 L423.88 232.77 L423.88 238.09 L423.88 238.09 L322.75 238.09 L322.75 237.01 L314.88 237.01 L314.88 235.47 L307.01 235.47 L307.01 233.54 L299.14 233.54 L299.14 231.61 L291.27 231.61 L291.27 229.3 L283.4 229.3Z" fill="#e41a1c" stroke="none" stroke-width="1" fill-opacity="0.52"/>
<path d="M283.4 229.3 H287.33 V231.23 H290.48 V233.54 H293.63 V236.24 H296.78 V238.55 H298.75 V248.81 H304.33 V251.97 H406.57 V251.97" fill="none" stroke="#4daf4a" stroke-width="1"/>
<path d="M306.3 251.97H309.3M307.8 250.47V253.47" stroke="#4daf4a" stroke-width="0.7" fill="none"/>
<path d="M309.44 251.97H312.44M310.94 250.47V253.47" stroke="#4daf4a" stroke-width="0.7" fill="none"/>
<path d="M312.59 251.97H315.59M314.09 250.47V253.47" stroke="#4daf4a" stroke-width="0.7" fill="none"/>
<path d="M315.74 251.97H318.74M317.24 250.47V253.47" stroke="#4daf4a" stroke-width="0.7" fill="none"/>
<path d="M318.89 251.97H321.89M320.39 250.47V253.47" stroke="#4daf4a" stroke-width="0.7" fill="none"/>
<path d="M322.82 251.97H325.82M324.32 250.47V253.47" stroke="#4daf4a" stroke-width="0.7" fill="none"/>
<path d="M325.97 251.97H328.97M327.47 250.47V253.47" stroke="#4daf4a" stroke-width="0.7" fill="none"/>
<path d="M332.27 251.97H335.27M333.77 250.47V253.47" stroke="#4daf4a" stroke-width="0.7" fill="none"/>
<path d="M338.56 251.97H341.56M340.06 250.47V253.47" stroke="#4daf4a" stroke-width="0.7" fill="none"/>
<path d="M377.91 251.97H380.91M379.41 250.47V253.47" stroke="#4daf4a" stroke-width="0.7" fill="none"/>
<path d="M384.21 251.97H387.21M385.71 250.47V253.47" stroke="#4daf4a" stroke-width="0.7" fill="none"/>
<path d="M405.07 251.97H408.07M406.57 250.47V253.47" stroke="#4daf4a" stroke-width="0.7" fill="none"/>
<path d="M283.4 229.3 H287.33 V230.84 H290.48 V233.15 H293.63 V235.47 H295.99 V237.4 H298.35 V239.17 H315.67 V241.71 H326.69 V245.8 H336.68 V254.28 H367.22 V254.28" fill="none" stroke="#1b4f9c" stroke-width="1.2"/>
<path d="M299.21 239.17H302.21M300.71 237.67V240.67" stroke="#1b4f9c" stroke-width="0.8" fill="none"/>
<path d="M301.57 239.17H304.57M303.07 237.67V240.67" stroke="#1b4f9c" stroke-width="0.8" fill="none"/>
<path d="M303.94 239.17H306.94M305.44 237.67V240.67" stroke="#1b4f9c" stroke-width="0.8" fill="none"/>
<path d="M307.08 239.17H310.08M308.58 237.67V240.67" stroke="#1b4f9c" stroke-width="0.8" fill="none"/>
<path d="M309.44 239.17H312.44M310.94 237.67V240.67" stroke="#1b4f9c" stroke-width="0.8" fill="none"/>
<path d="M311.81 239.17H314.81M313.31 237.67V240.67" stroke="#1b4f9c" stroke-width="0.8" fill="none"/>
<path d="M314.95 241.71H317.95M316.45 240.21V243.21" stroke="#1b4f9c" stroke-width="0.8" fill="none"/>
<path d="M316.53 241.71H319.53M318.03 240.21V243.21" stroke="#1b4f9c" stroke-width="0.8" fill="none"/>
<path d="M319.68 241.71H322.68M321.18 240.21V243.21" stroke="#1b4f9c" stroke-width="0.8" fill="none"/>
<path d="M322.82 241.71H325.82M324.32 240.21V243.21" stroke="#1b4f9c" stroke-width="0.8" fill="none"/>
<path d="M327.55 245.8H330.55M329.05 244.3V247.3" stroke="#1b4f9c" stroke-width="0.8" fill="none"/>
<path d="M330.69 245.8H333.69M332.19 244.3V247.3" stroke="#1b4f9c" stroke-width="0.8" fill="none"/>
<path d="M333.05 245.8H336.05M334.55 244.3V247.3" stroke="#1b4f9c" stroke-width="0.8" fill="none"/>
<path d="M289.7 232.58 L298.35 239.17" fill="none" stroke="#1b4f9c" stroke-width="2.4" stroke-linecap="round" stroke-dasharray="2.2 1.4"/>
<path d="M298.35 239.17 L314.88 239.17" fill="none" stroke="#1b4f9c" stroke-width="2.4" stroke-linecap="round" stroke-dasharray="2.2 1.4"/>
<path d="M316.45 241.71 L322.75 241.71" fill="none" stroke="#1b4f9c" stroke-width="2.4" stroke-linecap="round" stroke-dasharray="2.2 1.4"/>
<path d="M327.08 245.8 L335.34 245.8" fill="none" stroke="#1b4f9c" stroke-width="2.4" stroke-linecap="round" stroke-dasharray="2.2 1.4"/>
<path d="M343.19 254.28H346.39M344.79 252.68V255.88" stroke="#1b4f9c" stroke-width="0.8" fill="none"/>
<path d="M346.33 254.28H349.53M347.93 252.68V255.88" stroke="#1b4f9c" stroke-width="0.8" fill="none"/>
<path d="M349.48 254.28H352.68M351.08 252.68V255.88" stroke="#1b4f9c" stroke-width="0.8" fill="none"/>
<path d="M355.78 254.28H358.98M357.38 252.68V255.88" stroke="#1b4f9c" stroke-width="0.8" fill="none"/>
<path d="M365.62 254.28H368.82M367.22 252.68V255.88" stroke="#1b4f9c" stroke-width="0.8" fill="none"/>
<path d="M283.4 229.3 H285.19 V229.57 H286.98 V229.85 H288.77 V230.12 H290.55 V230.39 H292.34 V230.67 H294.13 V230.94 H295.92 V231.21 H297.71 V231.49 H299.5 V231.76 H301.29 V232.03 H303.07 V232.31 H304.86 V232.58 H306.65 V232.85 H308.44 V233.13 H310.23 V233.4 H312.02 V233.67 H313.81 V233.95 H315.6 V234.22 H317.38 V234.49 H319.17 V234.77 H320.96 V235.04 H322.75 V235.31 H423.88 V235.31" fill="none" stroke="#e41a1c" stroke-width="1.3"/>
<path d="M283.4 229.3 L285.19 229.57 L286.98 229.85 L288.77 230.12 L290.55 230.39 L292.34 230.67 L294.13 230.94 L295.92 231.21 L297.71 231.49 L299.5 231.76 L301.29 232.03 L303.07 232.31 L304.86 232.58 L306.65 232.85 L308.44 233.13 L310.23 233.4 L312.02 233.67 L313.81 233.95 L315.6 234.22 L317.38 234.49 L319.17 234.77 L320.96 235.04 L322.75 235.31" fill="none" stroke="#e41a1c" stroke-width="2.6" stroke-linecap="round"/>
<line x1="322.75" y1="235.31" x2="362.1" y2="235.31" stroke="#e41a1c" stroke-width="2"/>
<path d="M322.82 235.31H325.82M324.32 233.81V236.81" stroke="#e41a1c" stroke-width="0.7" fill="none"/>
<path d="M325.19 235.31H328.19M326.69 233.81V236.81" stroke="#e41a1c" stroke-width="0.7" fill="none"/>
<path d="M327.55 235.31H330.55M329.05 233.81V236.81" stroke="#e41a1c" stroke-width="0.7" fill="none"/>
<path d="M329.91 235.31H332.91M331.41 233.81V236.81" stroke="#e41a1c" stroke-width="0.7" fill="none"/>
<path d="M332.27 235.31H335.27M333.77 233.81V236.81" stroke="#e41a1c" stroke-width="0.7" fill="none"/>
<path d="M334.63 235.31H337.63M336.13 233.81V236.81" stroke="#e41a1c" stroke-width="0.7" fill="none"/>
<path d="M336.99 235.31H339.99M338.49 233.81V236.81" stroke="#e41a1c" stroke-width="0.7" fill="none"/>
<path d="M339.35 235.31H342.35M340.85 233.81V236.81" stroke="#e41a1c" stroke-width="0.7" fill="none"/>
<path d="M341.71 235.31H344.71M343.21 233.81V236.81" stroke="#e41a1c" stroke-width="0.7" fill="none"/>
<path d="M344.07 235.31H347.07M345.57 233.81V236.81" stroke="#e41a1c" stroke-width="0.7" fill="none"/>
<path d="M346.43 235.31H349.43M347.93 233.81V236.81" stroke="#e41a1c" stroke-width="0.7" fill="none"/>
<path d="M348.79 235.31H351.79M350.29 233.81V236.81" stroke="#e41a1c" stroke-width="0.7" fill="none"/>
<path d="M351.16 235.31H354.16M352.66 233.81V236.81" stroke="#e41a1c" stroke-width="0.7" fill="none"/>
<path d="M353.52 235.31H356.52M355.02 233.81V236.81" stroke="#e41a1c" stroke-width="0.7" fill="none"/>
<path d="M355.88 235.31H358.88M357.38 233.81V236.81" stroke="#e41a1c" stroke-width="0.7" fill="none"/>
<path d="M358.24 235.31H361.24M359.74 233.81V236.81" stroke="#e41a1c" stroke-width="0.7" fill="none"/>
<path d="M360.6 235.31H363.6M362.1 233.81V236.81" stroke="#e41a1c" stroke-width="0.7" fill="none"/>
<path d="M363.75 235.31H366.75M365.25 233.81V236.81" stroke="#e41a1c" stroke-width="0.7" fill="none"/>
<path d="M366.9 235.31H369.9M368.4 233.81V236.81" stroke="#e41a1c" stroke-width="0.7" fill="none"/>
<path d="M370.83 235.31H373.83M372.33 233.81V236.81" stroke="#e41a1c" stroke-width="0.7" fill="none"/>
<path d="M374.77 235.31H377.77M376.27 233.81V236.81" stroke="#e41a1c" stroke-width="0.7" fill="none"/>
<path d="M377.91 235.31H380.91M379.41 233.81V236.81" stroke="#e41a1c" stroke-width="0.7" fill="none"/>
<path d="M382.64 235.31H385.64M384.14 233.81V236.81" stroke="#e41a1c" stroke-width="0.7" fill="none"/>
<path d="M387.36 235.31H390.36M388.86 233.81V236.81" stroke="#e41a1c" stroke-width="0.7" fill="none"/>
<path d="M390.51 235.31H393.51M392.01 233.81V236.81" stroke="#e41a1c" stroke-width="0.7" fill="none"/>
<path d="M392.87 235.31H395.87M394.37 233.81V236.81" stroke="#e41a1c" stroke-width="0.7" fill="none"/>
<path d="M395.23 235.31H398.23M396.73 233.81V236.81" stroke="#e41a1c" stroke-width="0.7" fill="none"/>
<path d="M399.95 235.31H402.95M401.45 233.81V236.81" stroke="#e41a1c" stroke-width="0.7" fill="none"/>
<path d="M405.46 235.31H408.46M406.96 233.81V236.81" stroke="#e41a1c" stroke-width="0.7" fill="none"/>
<path d="M410.18 235.31H413.18M411.68 233.81V236.81" stroke="#e41a1c" stroke-width="0.7" fill="none"/>
<path d="M415.69 235.31H418.69M417.19 233.81V236.81" stroke="#e41a1c" stroke-width="0.7" fill="none"/>
<path d="M422.38 235.31H425.38M423.88 233.81V236.81" stroke="#e41a1c" stroke-width="0.7" fill="none"/>
<rect x="275.9" y="225.6" width="155.6" height="86.5" fill="none" stroke="#8f8f8f" stroke-width="0.9"/>
<line x1="273.9" y1="306.4" x2="275.9" y2="306.4" stroke="#555" stroke-width="0.7"/>
<text x="272.8" y="309" font-size="7" text-anchor="end" font-weight="bold" fill="#111">0</text>
<line x1="273.9" y1="287.12" x2="275.9" y2="287.12" stroke="#555" stroke-width="0.7"/>
<text x="272.8" y="289.73" font-size="7" text-anchor="end" font-weight="bold" fill="#111">25</text>
<line x1="273.9" y1="267.85" x2="275.9" y2="267.85" stroke="#555" stroke-width="0.7"/>
<text x="272.8" y="270.45" font-size="7" text-anchor="end" font-weight="bold" fill="#111">50</text>
<line x1="273.9" y1="248.57" x2="275.9" y2="248.57" stroke="#555" stroke-width="0.7"/>
<text x="272.8" y="251.17" font-size="7" text-anchor="end" font-weight="bold" fill="#111">75</text>
<line x1="273.9" y1="229.3" x2="275.9" y2="229.3" stroke="#555" stroke-width="0.7"/>
<text x="272.8" y="231.9" font-size="7" text-anchor="end" font-weight="bold" fill="#111">100</text>
<text x="253" y="320.6" font-size="10.4" textLength="104" lengthAdjust="spacingAndGlyphs" transform="rotate(-90 253 320.6)" fill="#111" stroke="#111" stroke-width="0.28">Survival probability (%)</text>
<text x="282.8" y="308.4" font-size="10.2" textLength="43" lengthAdjust="spacingAndGlyphs" fill="#111" stroke="#111" stroke-width="0.25">P&lt;0.0001</text>
<line x1="283.4" y1="312.1" x2="283.4" y2="314.3" stroke="#555" stroke-width="0.7"/>
<text x="283.4" y="323.8" font-size="9.6" text-anchor="middle" fill="#111" stroke="#111" stroke-width="0.35">0</text>
<line x1="330.62" y1="312.1" x2="330.62" y2="314.3" stroke="#555" stroke-width="0.7"/>
<text x="330.62" y="323.8" font-size="9.6" text-anchor="middle" fill="#111" stroke="#111" stroke-width="0.35">60</text>
<line x1="377.84" y1="312.1" x2="377.84" y2="314.3" stroke="#555" stroke-width="0.7"/>
<text x="377.84" y="323.8" font-size="9.6" text-anchor="middle" fill="#111" stroke="#111" stroke-width="0.35">120</text>
<line x1="425.06" y1="312.1" x2="425.06" y2="314.3" stroke="#555" stroke-width="0.7"/>
<text x="425.06" y="323.8" font-size="9.6" text-anchor="middle" fill="#111" stroke="#111" stroke-width="0.35">180</text>
<text x="355.3" y="335.8" font-size="10.8" text-anchor="middle" fill="#111" stroke="#111" stroke-width="0.45">Time</text>
<rect x="263" y="204.3" width="10.4" height="10" fill="#1b4f9c" stroke="none" stroke-width="1" fill-opacity="0.35"/>
<line x1="264" y1="209.3" x2="272.4" y2="209.3" stroke="#1b4f9c" stroke-width="1"/>
<path d="M266.4 209.3H270M268.2 207.5V211.1" stroke="#1b4f9c" stroke-width="0.9" fill="none"/>
<rect x="315.2" y="204.3" width="10.4" height="10" fill="#e41a1c" stroke="none" stroke-width="1" fill-opacity="0.35"/>
<line x1="316.2" y1="209.3" x2="324.6" y2="209.3" stroke="#e41a1c" stroke-width="1"/>
<path d="M318.6 209.3H322.2M320.4 207.5V211.1" stroke="#e41a1c" stroke-width="0.9" fill="none"/>
<rect x="367.6" y="204.3" width="10.4" height="10" fill="#4daf4a" stroke="none" stroke-width="1" fill-opacity="0.35"/>
<line x1="368.6" y1="209.3" x2="377" y2="209.3" stroke="#4daf4a" stroke-width="1"/>
<path d="M371 209.3H374.6M372.8 207.5V211.1" stroke="#4daf4a" stroke-width="0.9" fill="none"/>
<text x="275.2" y="212.9" font-size="10.1" textLength="35.3" lengthAdjust="spacingAndGlyphs" font-weight="bold" fill="#111">all high</text>
<text x="329.2" y="212.9" font-size="10.1" textLength="31.6" lengthAdjust="spacingAndGlyphs" font-weight="bold" fill="#111">all low</text>
<text x="380.7" y="213.2" font-size="10" textLength="83.8" lengthAdjust="spacingAndGlyphs" fill="#111" stroke="#111" stroke-width="0.4">B high and T low</text>
<rect x="275.9" y="346.8" width="155.6" height="32.3" fill="#fff" stroke="none" stroke-width="1"/>
<line x1="283.4" y1="346.8" x2="283.4" y2="379.1" stroke="#ececec" stroke-width="0.7"/>
<line x1="330.62" y1="346.8" x2="330.62" y2="379.1" stroke="#ececec" stroke-width="0.7"/>
<line x1="377.84" y1="346.8" x2="377.84" y2="379.1" stroke="#ececec" stroke-width="0.7"/>
<line x1="425.06" y1="346.8" x2="425.06" y2="379.1" stroke="#ececec" stroke-width="0.7"/>
<line x1="275.9" y1="352.7" x2="431.5" y2="352.7" stroke="#f0f0f0" stroke-width="0.7"/>
<line x1="275.9" y1="363.1" x2="431.5" y2="363.1" stroke="#f0f0f0" stroke-width="0.7"/>
<line x1="275.9" y1="373.2" x2="431.5" y2="373.2" stroke="#f0f0f0" stroke-width="0.7"/>
<rect x="275.9" y="346.8" width="155.6" height="32.3" fill="none" stroke="#8f8f8f" stroke-width="0.9"/>
<line x1="273.9" y1="352.7" x2="275.9" y2="352.7" stroke="#555" stroke-width="0.7"/>
<text x="272.2" y="355.6" font-size="8.9" text-anchor="end" fill="#1c4f9c" stroke="#1c4f9c" stroke-width="0.15">all high</text>
<text x="283.4" y="355.5" font-size="7.8" text-anchor="middle" fill="#111" stroke="#111" stroke-width="0.2">94</text>
<text x="330.62" y="355.5" font-size="7.8" text-anchor="middle" fill="#111" stroke="#111" stroke-width="0.2">14</text>
<text x="377.84" y="355.5" font-size="7.8" text-anchor="middle" fill="#111" stroke="#111" stroke-width="0.2">0</text>
<text x="425.06" y="355.5" font-size="7.8" text-anchor="middle" fill="#111" stroke="#111" stroke-width="0.2">0</text>
<line x1="273.9" y1="363.1" x2="275.9" y2="363.1" stroke="#555" stroke-width="0.7"/>
<text x="272.2" y="366" font-size="8.9" text-anchor="end" fill="#d2192a" stroke="#d2192a" stroke-width="0.15">all low</text>
<text x="283.4" y="365.9" font-size="7.8" text-anchor="middle" fill="#111" stroke="#111" stroke-width="0.2">247</text>
<text x="330.62" y="365.9" font-size="7.8" text-anchor="middle" fill="#111" stroke="#111" stroke-width="0.2">49</text>
<text x="377.84" y="365.9" font-size="7.8" text-anchor="middle" fill="#111" stroke="#111" stroke-width="0.2">11</text>
<text x="425.06" y="365.9" font-size="7.8" text-anchor="middle" fill="#111" stroke="#111" stroke-width="0.2">0</text>
<line x1="273.9" y1="373.2" x2="275.9" y2="373.2" stroke="#555" stroke-width="0.7"/>
<text x="272.2" y="376.1" font-size="8.9" text-anchor="end" fill="#2e8b4e" stroke="#2e8b4e" stroke-width="0.15">B high-T low</text>
<text x="283.4" y="376" font-size="7.8" text-anchor="middle" fill="#111" stroke="#111" stroke-width="0.2">43</text>
<text x="330.62" y="376" font-size="7.8" text-anchor="middle" fill="#111" stroke="#111" stroke-width="0.2">7</text>
<text x="377.84" y="376" font-size="7.8" text-anchor="middle" fill="#111" stroke="#111" stroke-width="0.2">4</text>
<text x="425.06" y="376" font-size="7.8" text-anchor="middle" fill="#111" stroke="#111" stroke-width="0.2">0</text>
<line x1="283.4" y1="379.1" x2="283.4" y2="381.3" stroke="#555" stroke-width="0.7"/>
<text x="283.4" y="389.7" font-size="9.6" text-anchor="middle" fill="#111" stroke="#111" stroke-width="0.35">0</text>
<line x1="330.62" y1="379.1" x2="330.62" y2="381.3" stroke="#555" stroke-width="0.7"/>
<text x="330.62" y="389.7" font-size="9.6" text-anchor="middle" fill="#111" stroke="#111" stroke-width="0.35">60</text>
<line x1="377.84" y1="379.1" x2="377.84" y2="381.3" stroke="#555" stroke-width="0.7"/>
<text x="377.84" y="389.7" font-size="9.6" text-anchor="middle" fill="#111" stroke="#111" stroke-width="0.35">120</text>
<line x1="425.06" y1="379.1" x2="425.06" y2="381.3" stroke="#555" stroke-width="0.7"/>
<text x="425.06" y="389.7" font-size="9.6" text-anchor="middle" fill="#111" stroke="#111" stroke-width="0.35">180</text>
<text x="357.7" y="400.1" font-size="10.8" text-anchor="middle" fill="#111" stroke="#111" stroke-width="0.45">Time</text>
</g>
<g id="F">
<text x="488" y="207.9" font-size="18.7" font-weight="bold">F</text>
<rect x="523.9" y="220.6" width="160.3" height="89.9" fill="#fff" stroke="none" stroke-width="1"/>
<line x1="531" y1="220.6" x2="531" y2="310.5" stroke="#ebebeb" stroke-width="0.7"/>
<line x1="579.34" y1="220.6" x2="579.34" y2="310.5" stroke="#ebebeb" stroke-width="0.7"/>
<line x1="627.67" y1="220.6" x2="627.67" y2="310.5" stroke="#ebebeb" stroke-width="0.7"/>
<line x1="676.01" y1="220.6" x2="676.01" y2="310.5" stroke="#ebebeb" stroke-width="0.7"/>
<line x1="555.17" y1="220.6" x2="555.17" y2="310.5" stroke="#f4f4f4" stroke-width="0.6"/>
<line x1="603.5" y1="220.6" x2="603.5" y2="310.5" stroke="#f4f4f4" stroke-width="0.6"/>
<line x1="651.84" y1="220.6" x2="651.84" y2="310.5" stroke="#f4f4f4" stroke-width="0.6"/>
<line x1="523.9" y1="306" x2="684.2" y2="306" stroke="#ebebeb" stroke-width="0.7"/>
<line x1="523.9" y1="285.7" x2="684.2" y2="285.7" stroke="#ebebeb" stroke-width="0.7"/>
<line x1="523.9" y1="265.4" x2="684.2" y2="265.4" stroke="#ebebeb" stroke-width="0.7"/>
<line x1="523.9" y1="245.1" x2="684.2" y2="245.1" stroke="#ebebeb" stroke-width="0.7"/>
<line x1="523.9" y1="224.8" x2="684.2" y2="224.8" stroke="#ebebeb" stroke-width="0.7"/>
<line x1="523.9" y1="295.85" x2="684.2" y2="295.85" stroke="#f4f4f4" stroke-width="0.6"/>
<line x1="523.9" y1="275.55" x2="684.2" y2="275.55" stroke="#f4f4f4" stroke-width="0.6"/>
<line x1="523.9" y1="255.25" x2="684.2" y2="255.25" stroke="#f4f4f4" stroke-width="0.6"/>
<line x1="523.9" y1="234.95" x2="684.2" y2="234.95" stroke="#f4f4f4" stroke-width="0.6"/>
<path d="M531 224.8 L539.06 224.8 L539.06 225.21 L545.5 225.21 L545.5 227.24 L550.33 227.24 L550.33 228.86 L563.22 228.86 L563.22 230.08 L585.78 230.08 L585.78 230.89 L618 230.89 L618 230.89 L618 265.4 L618 265.4 L585.78 265.4 L585.78 252 L575.31 252 L575.31 248.35 L568.86 248.35 L568.86 245.1 L563.22 245.1 L563.22 241.85 L555.17 241.85 L555.17 239.82 L547.11 239.82 L547.11 236.17 L542.28 236.17 L542.28 231.3 L537.44 231.3 L537.44 224.8 L531 224.8Z" fill="#1b4f9c" stroke="none" stroke-width="1" fill-opacity="0.4"/>
<path d="M531 224.8 L539.06 224.8 L539.06 225.61 L546.31 225.61 L546.31 228.86 L553.56 228.86 L553.56 234.14 L658.69 234.14 L658.69 234.14 L658.69 260.93 L658.69 260.93 L553.56 260.93 L553.56 257.28 L548.32 257.28 L548.32 250.78 L546.31 250.78 L546.31 239.42 L542.28 239.42 L542.28 231.3 L537.44 231.3 L537.44 224.8 L531 224.8Z" fill="#e41a1c" stroke="none" stroke-width="1" fill-opacity="0.36"/>
<path d="M531 224.8 H534.22 V226.42 H537.44 V228.86 H540.67 V232.11 H543.89 V236.17 H546.31 V241.04 H548.32 V245.1 H553.56 V249.16 H658.69 V249.16" fill="none" stroke="#e41a1c" stroke-width="1.1"/>
<path d="M548.83 245.1H551.83M550.33 243.6V246.6" stroke="#e41a1c" stroke-width="0.7" fill="none"/>
<path d="M552.86 249.16H555.86M554.36 247.66V250.66" stroke="#e41a1c" stroke-width="0.7" fill="none"/>
<path d="M555.28 249.16H558.28M556.78 247.66V250.66" stroke="#e41a1c" stroke-width="0.7" fill="none"/>
<path d="M557.7 249.16H560.7M559.2 247.66V250.66" stroke="#e41a1c" stroke-width="0.7" fill="none"/>
<path d="M560.11 249.16H563.11M561.61 247.66V250.66" stroke="#e41a1c" stroke-width="0.7" fill="none"/>
<path d="M562.53 249.16H565.53M564.03 247.66V250.66" stroke="#e41a1c" stroke-width="0.7" fill="none"/>
<path d="M567.36 249.16H570.36M568.86 247.66V250.66" stroke="#e41a1c" stroke-width="0.7" fill="none"/>
<path d="M569.78 249.16H572.78M571.28 247.66V250.66" stroke="#e41a1c" stroke-width="0.7" fill="none"/>
<path d="M574.61 249.16H577.61M576.11 247.66V250.66" stroke="#e41a1c" stroke-width="0.7" fill="none"/>
<path d="M580.25 249.16H583.25M581.75 247.66V250.66" stroke="#e41a1c" stroke-width="0.7" fill="none"/>
<path d="M593.14 249.16H596.14M594.64 247.66V250.66" stroke="#e41a1c" stroke-width="0.7" fill="none"/>
<path d="M597.17 249.16H600.17M598.67 247.66V250.66" stroke="#e41a1c" stroke-width="0.7" fill="none"/>
<path d="M604.42 249.16H607.42M605.92 247.66V250.66" stroke="#e41a1c" stroke-width="0.7" fill="none"/>
<path d="M610.06 249.16H613.06M611.56 247.66V250.66" stroke="#e41a1c" stroke-width="0.7" fill="none"/>
<path d="M615.7 249.16H618.7M617.2 247.66V250.66" stroke="#e41a1c" stroke-width="0.7" fill="none"/>
<path d="M627.78 249.16H630.78M629.28 247.66V250.66" stroke="#e41a1c" stroke-width="0.7" fill="none"/>
<path d="M633.42 249.16H636.42M634.92 247.66V250.66" stroke="#e41a1c" stroke-width="0.7" fill="none"/>
<path d="M657.19 249.16H660.19M658.69 247.66V250.66" stroke="#e41a1c" stroke-width="0.7" fill="none"/>
<path d="M531 224.8 H535.03 V226.42 H538.25 V228.86 H541.47 V231.3 H543.89 V233.33 H546.31 V235.19 H555.17 V236.33 H564.03 V237.87 H569.67 V239.42 H575.31 V242.99 H585.54 V251.11 H618 V251.11" fill="none" stroke="#1b4f9c" stroke-width="1.2"/>
<path d="M535.83 227.03 L546.31 235.19" fill="none" stroke="#1b4f9c" stroke-width="2.4" stroke-linecap="round" stroke-dasharray="2.2 1.4"/>
<path d="M546.31 235.19 L554.36 235.19" fill="none" stroke="#1b4f9c" stroke-width="2.4" stroke-linecap="round" stroke-dasharray="2.2 1.4"/>
<path d="M555.17 236.33 L563.22 236.33" fill="none" stroke="#1b4f9c" stroke-width="2.4" stroke-linecap="round" stroke-dasharray="2.2 1.4"/>
<path d="M564.84 237.87 L574.5 239.42" fill="none" stroke="#1b4f9c" stroke-width="2.4" stroke-linecap="round" stroke-dasharray="2.2 1.4"/>
<path d="M575.71 242.99 L584.17 242.99" fill="none" stroke="#1b4f9c" stroke-width="2.4" stroke-linecap="round" stroke-dasharray="2.2 1.4"/>
<path d="M547.22 235.19H550.22M548.72 233.69V236.69" stroke="#1b4f9c" stroke-width="0.8" fill="none"/>
<path d="M549.64 235.19H552.64M551.14 233.69V236.69" stroke="#1b4f9c" stroke-width="0.8" fill="none"/>
<path d="M552.06 235.19H555.06M553.56 233.69V236.69" stroke="#1b4f9c" stroke-width="0.8" fill="none"/>
<path d="M555.28 236.33H558.28M556.78 234.83V237.83" stroke="#1b4f9c" stroke-width="0.8" fill="none"/>
<path d="M557.7 236.33H560.7M559.2 234.83V237.83" stroke="#1b4f9c" stroke-width="0.8" fill="none"/>
<path d="M560.11 236.33H563.11M561.61 234.83V237.83" stroke="#1b4f9c" stroke-width="0.8" fill="none"/>
<path d="M563.34 237.87H566.34M564.84 236.37V239.37" stroke="#1b4f9c" stroke-width="0.8" fill="none"/>
<path d="M564.95 237.87H567.95M566.45 236.37V239.37" stroke="#1b4f9c" stroke-width="0.8" fill="none"/>
<path d="M568.17 239.42H571.17M569.67 237.92V240.92" stroke="#1b4f9c" stroke-width="0.8" fill="none"/>
<path d="M571.39 239.42H574.39M572.89 237.92V240.92" stroke="#1b4f9c" stroke-width="0.8" fill="none"/>
<path d="M575.42 242.99H578.42M576.92 241.49V244.49" stroke="#1b4f9c" stroke-width="0.8" fill="none"/>
<path d="M578.64 242.99H581.64M580.14 241.49V244.49" stroke="#1b4f9c" stroke-width="0.8" fill="none"/>
<path d="M581.86 242.99H584.86M583.36 241.49V244.49" stroke="#1b4f9c" stroke-width="0.8" fill="none"/>
<path d="M592.24 251.11H595.44M593.84 249.51V252.71" stroke="#1b4f9c" stroke-width="0.8" fill="none"/>
<path d="M595.46 251.11H598.66M597.06 249.51V252.71" stroke="#1b4f9c" stroke-width="0.8" fill="none"/>
<path d="M598.68 251.11H601.88M600.28 249.51V252.71" stroke="#1b4f9c" stroke-width="0.8" fill="none"/>
<path d="M605.13 251.11H608.33M606.73 249.51V252.71" stroke="#1b4f9c" stroke-width="0.8" fill="none"/>
<path d="M616.4 251.11H619.6M618 249.51V252.71" stroke="#1b4f9c" stroke-width="0.8" fill="none"/>
<path d="M531 224.8 L534.22 226.18 L537.44 228.05 L541.47 230.89 L544.7 233.73" fill="none" stroke="#cf1420" stroke-width="2.4" stroke-linecap="round" stroke-dasharray="3.2 1.6"/>
<rect x="523.9" y="220.6" width="160.3" height="89.9" fill="none" stroke="#8f8f8f" stroke-width="0.9"/>
<line x1="521.9" y1="306" x2="523.9" y2="306" stroke="#555" stroke-width="0.7"/>
<text x="520.6" y="308.6" font-size="7" text-anchor="end" font-weight="bold" fill="#111">0</text>
<line x1="521.9" y1="285.7" x2="523.9" y2="285.7" stroke="#555" stroke-width="0.7"/>
<text x="520.6" y="288.3" font-size="7" text-anchor="end" font-weight="bold" fill="#111">25</text>
<line x1="521.9" y1="265.4" x2="523.9" y2="265.4" stroke="#555" stroke-width="0.7"/>
<text x="520.6" y="268" font-size="7" text-anchor="end" font-weight="bold" fill="#111">50</text>
<line x1="521.9" y1="245.1" x2="523.9" y2="245.1" stroke="#555" stroke-width="0.7"/>
<text x="520.6" y="247.7" font-size="7" text-anchor="end" font-weight="bold" fill="#111">75</text>
<line x1="521.9" y1="224.8" x2="523.9" y2="224.8" stroke="#555" stroke-width="0.7"/>
<text x="520.6" y="227.4" font-size="7" text-anchor="end" font-weight="bold" fill="#111">100</text>
<text x="501" y="320.3" font-size="10.5" textLength="106.8" lengthAdjust="spacingAndGlyphs" transform="rotate(-90 501 320.3)" fill="#111" stroke="#111" stroke-width="0.28">Survival probability (%)</text>
<text x="535.8" y="305.9" font-size="10.2" textLength="32.8" lengthAdjust="spacingAndGlyphs" fill="#111" stroke="#111" stroke-width="0.25">P=0.33</text>
<line x1="531" y1="310.5" x2="531" y2="312.7" stroke="#555" stroke-width="0.7"/>
<text x="531" y="321.7" font-size="9.6" text-anchor="middle" fill="#111" stroke="#111" stroke-width="0.35">0</text>
<line x1="579.34" y1="310.5" x2="579.34" y2="312.7" stroke="#555" stroke-width="0.7"/>
<text x="579.34" y="321.7" font-size="9.6" text-anchor="middle" fill="#111" stroke="#111" stroke-width="0.35">60</text>
<line x1="627.67" y1="310.5" x2="627.67" y2="312.7" stroke="#555" stroke-width="0.7"/>
<text x="627.67" y="321.7" font-size="9.6" text-anchor="middle" fill="#111" stroke="#111" stroke-width="0.35">120</text>
<line x1="676.01" y1="310.5" x2="676.01" y2="312.7" stroke="#555" stroke-width="0.7"/>
<text x="676.01" y="321.7" font-size="9.6" text-anchor="middle" fill="#111" stroke="#111" stroke-width="0.35">180</text>
<text x="608.1" y="334.9" font-size="10.8" text-anchor="middle" fill="#111" stroke="#111" stroke-width="0.45">Time</text>
<rect x="534.2" y="199.7" width="10.2" height="9.8" fill="#1b4f9c" stroke="none" stroke-width="1" fill-opacity="0.35"/>
<line x1="535.2" y1="204.6" x2="543.4" y2="204.6" stroke="#1b4f9c" stroke-width="1"/>
<path d="M537.5 204.6H541.1M539.3 202.8V206.4" stroke="#1b4f9c" stroke-width="0.9" fill="none"/>
<rect x="589.3" y="199.7" width="10.2" height="9.8" fill="#e41a1c" stroke="none" stroke-width="1" fill-opacity="0.35"/>
<line x1="590.3" y1="204.6" x2="598.5" y2="204.6" stroke="#e41a1c" stroke-width="1"/>
<path d="M592.6 204.6H596.2M594.4 202.8V206.4" stroke="#e41a1c" stroke-width="0.9" fill="none"/>
<text x="548.8" y="207.6" font-size="10.1" textLength="35.3" lengthAdjust="spacingAndGlyphs" font-weight="bold" fill="#111">all high</text>
<text x="605" y="208.1" font-size="8.8" textLength="70.2" lengthAdjust="spacingAndGlyphs" font-weight="bold" fill="#111">B high and T low</text>
<rect x="523.9" y="351" width="160.3" height="29.5" fill="#fff" stroke="none" stroke-width="1"/>
<line x1="531" y1="351" x2="531" y2="380.5" stroke="#ececec" stroke-width="0.7"/>
<line x1="579.34" y1="351" x2="579.34" y2="380.5" stroke="#ececec" stroke-width="0.7"/>
<line x1="627.67" y1="351" x2="627.67" y2="380.5" stroke="#ececec" stroke-width="0.7"/>
<line x1="676.01" y1="351" x2="676.01" y2="380.5" stroke="#ececec" stroke-width="0.7"/>
<line x1="523.9" y1="356.5" x2="684.2" y2="356.5" stroke="#f0f0f0" stroke-width="0.7"/>
<line x1="523.9" y1="371.8" x2="684.2" y2="371.8" stroke="#f0f0f0" stroke-width="0.7"/>
<rect x="523.3" y="351" width="160.9" height="29.5" fill="none" stroke="#8f8f8f" stroke-width="0.9"/>
<line x1="521.3" y1="356.5" x2="523.3" y2="356.5" stroke="#555" stroke-width="0.7"/>
<text x="518.8" y="359.5" font-size="8.9" text-anchor="end" fill="#1c4f9c" stroke="#1c4f9c" stroke-width="0.15">all high</text>
<text x="531.5" y="359.4" font-size="8.3" text-anchor="middle" fill="#111" stroke="#111" stroke-width="0.2">94</text>
<text x="579.84" y="359.4" font-size="8.3" text-anchor="middle" fill="#111" stroke="#111" stroke-width="0.2">14</text>
<text x="628.17" y="359.4" font-size="8.3" text-anchor="middle" fill="#111" stroke="#111" stroke-width="0.2">0</text>
<text x="676.51" y="359.4" font-size="8.3" text-anchor="middle" fill="#111" stroke="#111" stroke-width="0.2">0</text>
<line x1="521.3" y1="371.8" x2="523.3" y2="371.8" stroke="#555" stroke-width="0.7"/>
<text x="518.8" y="374.8" font-size="8.9" text-anchor="end" fill="#d2192a" stroke="#d2192a" stroke-width="0.15">B high-T low</text>
<text x="531.5" y="374.7" font-size="8.3" text-anchor="middle" fill="#111" stroke="#111" stroke-width="0.2">43</text>
<text x="579.84" y="374.7" font-size="8.3" text-anchor="middle" fill="#111" stroke="#111" stroke-width="0.2">7</text>
<text x="628.17" y="374.7" font-size="8.3" text-anchor="middle" fill="#111" stroke="#111" stroke-width="0.2">4</text>
<text x="676.51" y="374.7" font-size="8.3" text-anchor="middle" fill="#111" stroke="#111" stroke-width="0.2">0</text>
<line x1="531" y1="380.5" x2="531" y2="382.7" stroke="#555" stroke-width="0.7"/>
<text x="531.5" y="392" font-size="9.6" text-anchor="middle" fill="#111" stroke="#111" stroke-width="0.35">0</text>
<line x1="579.34" y1="380.5" x2="579.34" y2="382.7" stroke="#555" stroke-width="0.7"/>
<text x="579.84" y="392" font-size="9.6" text-anchor="middle" fill="#111" stroke="#111" stroke-width="0.35">60</text>
<line x1="627.67" y1="380.5" x2="627.67" y2="382.7" stroke="#555" stroke-width="0.7"/>
<text x="628.17" y="392" font-size="9.6" text-anchor="middle" fill="#111" stroke="#111" stroke-width="0.35">120</text>
<line x1="676.01" y1="380.5" x2="676.01" y2="382.7" stroke="#555" stroke-width="0.7"/>
<text x="676.51" y="392" font-size="9.6" text-anchor="middle" fill="#111" stroke="#111" stroke-width="0.35">180</text>
<text x="606.4" y="402.5" font-size="10.8" text-anchor="middle" fill="#111" stroke="#111" stroke-width="0.45">Time</text>
</g>
<g id="G">
<defs><filter id="blur" x="-5%" y="-50%" width="110%" height="200%"><feGaussianBlur stdDeviation="0.8 0.5"/></filter><filter id="blur2" x="-20%" y="-50%" width="140%" height="200%"><feGaussianBlur stdDeviation="5 2"/></filter></defs>
<text x="8.3" y="436" font-size="18.5" font-weight="bold">G</text>
<clipPath id="g1"><rect x="84.2" y="457.4" width="87.7" height="15.1"/></clipPath>
<rect x="84.2" y="457.4" width="87.7" height="15.1" fill="#ededed" stroke="none" stroke-width="1"/>
<g clip-path="url(#g1)">
<g filter="url(#blur)">
<ellipse cx="96.25" cy="464.4" rx="9.95" ry="2.3" fill="#141414" fill-opacity="0.07"/>
<ellipse cx="96.25" cy="464.4" rx="8.75" ry="1" fill="#141414" fill-opacity="0.33"/>
<rect x="88.55" y="463.68" width="15.4" height="1.44" rx="0.72" fill="#141414" fill-opacity="0.26"/>
<ellipse cx="127.75" cy="464.6" rx="11.45" ry="2.45" fill="#141414" fill-opacity="0.11"/>
<ellipse cx="127.75" cy="464.6" rx="10.25" ry="1.15" fill="#141414" fill-opacity="0.5"/>
<rect x="118.73" y="463.77" width="18.04" height="1.66" rx="0.83" fill="#141414" fill-opacity="0.4"/>
<ellipse cx="131.25" cy="464.5" rx="7.45" ry="2.5" fill="#141414" fill-opacity="0.15"/>
<ellipse cx="131.25" cy="464.5" rx="6.25" ry="1.2" fill="#141414" fill-opacity="0.7"/>
<rect x="125.75" y="463.64" width="11" height="1.73" rx="0.86" fill="#141414" fill-opacity="0.56"/>
<ellipse cx="159" cy="464.6" rx="10.2" ry="2.1" fill="#141414" fill-opacity="0.01"/>
<ellipse cx="159" cy="464.6" rx="9" ry="0.8" fill="#141414" fill-opacity="0.03"/>
<rect x="151.08" y="464.02" width="15.84" height="1.15" rx="0.58" fill="#141414" fill-opacity="0.02"/>
</g></g>
<rect x="84.2" y="457.4" width="87.7" height="15.1" fill="none" stroke="#5c5c5c" stroke-width="0.85"/>
<clipPath id="g2"><rect x="84.2" y="475.8" width="87.7" height="14.7"/></clipPath>
<rect x="84.2" y="475.8" width="87.7" height="14.7" fill="#e4e4e4" stroke="none" stroke-width="1"/>
<g clip-path="url(#g2)">
<g filter="url(#blur)">
<ellipse cx="98.5" cy="482.4" rx="13.7" ry="2.8" fill="#141414" fill-opacity="0.21"/>
<ellipse cx="98.5" cy="482.4" rx="12.5" ry="1.5" fill="#141414" fill-opacity="0.95"/>
<rect x="87.5" y="481.32" width="22" height="2.16" rx="1.08" fill="#141414" fill-opacity="0.76"/>
<ellipse cx="128.5" cy="482.6" rx="13.7" ry="2.9" fill="#141414" fill-opacity="0.21"/>
<ellipse cx="128.5" cy="482.6" rx="12.5" ry="1.6" fill="#141414" fill-opacity="0.95"/>
<rect x="117.5" y="481.45" width="22" height="2.3" rx="1.15" fill="#141414" fill-opacity="0.76"/>
<ellipse cx="158" cy="482.4" rx="13.7" ry="3.5" fill="#141414" fill-opacity="0.19"/>
<ellipse cx="158" cy="482.4" rx="12.5" ry="2.2" fill="#141414" fill-opacity="0.85"/>
<rect x="147" y="480.82" width="22" height="3.17" rx="1.58" fill="#141414" fill-opacity="0.68"/>
</g></g>
<rect x="84.2" y="475.8" width="87.7" height="14.7" fill="none" stroke="#5c5c5c" stroke-width="0.85"/>
<clipPath id="g3"><rect x="181" y="457.2" width="87.1" height="14.6"/></clipPath>
<rect x="181" y="457.2" width="87.1" height="14.6" fill="#eeeeee" stroke="none" stroke-width="1"/>
<g clip-path="url(#g3)">
<g filter="url(#blur)">
<ellipse cx="193.25" cy="464.2" rx="10.45" ry="2.25" fill="#141414" fill-opacity="0.2"/>
<ellipse cx="193.25" cy="464.2" rx="9.25" ry="0.95" fill="#141414" fill-opacity="0.9"/>
<rect x="185.11" y="463.52" width="16.28" height="1.37" rx="0.68" fill="#141414" fill-opacity="0.72"/>
<ellipse cx="222" cy="464.6" rx="10.2" ry="2.15" fill="#141414" fill-opacity="0.17"/>
<ellipse cx="222" cy="464.6" rx="9" ry="0.85" fill="#141414" fill-opacity="0.75"/>
<rect x="214.08" y="463.99" width="15.84" height="1.22" rx="0.61" fill="#141414" fill-opacity="0.6"/>
<ellipse cx="254.5" cy="464" rx="11.2" ry="2.3" fill="#141414" fill-opacity="0.2"/>
<ellipse cx="254.5" cy="464" rx="10" ry="1" fill="#141414" fill-opacity="0.92"/>
<rect x="245.7" y="463.28" width="17.6" height="1.44" rx="0.72" fill="#141414" fill-opacity="0.74"/>
</g></g>
<rect x="181" y="457.2" width="87.1" height="14.6" fill="none" stroke="#5c5c5c" stroke-width="0.85"/>
<clipPath id="g4"><rect x="181" y="475.7" width="87.1" height="15.2"/></clipPath>
<rect x="181" y="475.7" width="87.1" height="15.2" fill="#ececec" stroke="none" stroke-width="1"/>
<g clip-path="url(#g4)">
<g filter="url(#blur)">
<ellipse cx="193.75" cy="483.3" rx="11.45" ry="2.4" fill="#141414" fill-opacity="0.21"/>
<ellipse cx="193.75" cy="483.3" rx="10.25" ry="1.1" fill="#141414" fill-opacity="0.97"/>
<rect x="184.73" y="482.51" width="18.04" height="1.58" rx="0.79" fill="#141414" fill-opacity="0.78"/>
<ellipse cx="222.5" cy="483.5" rx="11.7" ry="2.4" fill="#141414" fill-opacity="0.21"/>
<ellipse cx="222.5" cy="483.5" rx="10.5" ry="1.1" fill="#141414" fill-opacity="0.95"/>
<rect x="213.26" y="482.71" width="18.48" height="1.58" rx="0.79" fill="#141414" fill-opacity="0.76"/>
<ellipse cx="254" cy="483.3" rx="12.2" ry="2.45" fill="#141414" fill-opacity="0.21"/>
<ellipse cx="254" cy="483.3" rx="11" ry="1.15" fill="#141414" fill-opacity="0.97"/>
<rect x="244.32" y="482.47" width="19.36" height="1.66" rx="0.83" fill="#141414" fill-opacity="0.78"/>
</g></g>
<rect x="181" y="475.7" width="87.1" height="15.2" fill="none" stroke="#5c5c5c" stroke-width="0.85"/>
<text x="43" y="469.6" font-size="11" textLength="37.4" lengthAdjust="spacingAndGlyphs" fill="#111" stroke="#111" stroke-width="0.4">TOP2A</text>
<text x="44.3" y="486.5" font-size="10.4" textLength="33.6" lengthAdjust="spacingAndGlyphs" font-weight="bold" fill="#111">β-actin</text>
<text x="274.4" y="468.8" font-size="10.6" textLength="41" lengthAdjust="spacingAndGlyphs" font-weight="bold" fill="#111">174 kDa</text>
<text x="274.4" y="487.1" font-size="10.6" textLength="35.6" lengthAdjust="spacingAndGlyphs" font-weight="bold" fill="#111">42 kDa</text>
<text x="106.7" y="508.3" font-size="12.3" textLength="42.5" lengthAdjust="spacingAndGlyphs" fill="#111" stroke="#111" stroke-width="0.45">BCPAP</text>
<text x="208.8" y="508.5" font-size="11.6" textLength="36.2" lengthAdjust="spacingAndGlyphs" fill="#111" stroke="#111" stroke-width="0.45">TPC-1</text>
<text x="96" y="453.5" font-size="10.7" transform="rotate(-44 96 453.5)" fill="#111" stroke="#111" stroke-width="0.4">Blank</text>
<text x="129" y="453.5" font-size="10.7" transform="rotate(-44 129 453.5)" fill="#111" stroke="#111" stroke-width="0.4">siR-NC</text>
<text x="158.7" y="453.6" font-size="10.7" transform="rotate(-44 158.7 453.6)" fill="#111" stroke="#111" stroke-width="0.4">siR-BUB1B</text>
<text x="195" y="453.6" font-size="10.7" transform="rotate(-44 195 453.6)" fill="#111" stroke="#111" stroke-width="0.4">Blank</text>
<text x="225.7" y="453.6" font-size="10.7" transform="rotate(-44 225.7 453.6)" fill="#111" stroke="#111" stroke-width="0.4">siR-NC</text>
<text x="254.5" y="453.6" font-size="10.7" transform="rotate(-44 254.5 453.6)" fill="#111" stroke="#111" stroke-width="0.4">siR-BUB1B</text>
</g>
<g id="H">
<text x="373.2" y="443.2" font-size="18.5" font-weight="bold">H</text>
<clipPath id="h1"><rect x="449.3" y="460.1" width="84.6" height="14.4"/></clipPath>
<rect x="449.3" y="460.1" width="84.6" height="14.4" fill="#e3e3e3" stroke="none" stroke-width="1"/>
<g clip-path="url(#h1)">
<g filter="url(#blur)">
<ellipse cx="462.5" cy="467" rx="11.2" ry="2.95" fill="#141414" fill-opacity="0.2"/>
<ellipse cx="462.5" cy="467" rx="10" ry="1.65" fill="#141414" fill-opacity="0.92"/>
<rect x="453.7" y="465.81" width="17.6" height="2.38" rx="1.19" fill="#141414" fill-opacity="0.74"/>
<ellipse cx="491.5" cy="467" rx="11.2" ry="3.2" fill="#141414" fill-opacity="0.2"/>
<ellipse cx="491.5" cy="467" rx="10" ry="1.9" fill="#141414" fill-opacity="0.92"/>
<rect x="482.7" y="465.63" width="17.6" height="2.74" rx="1.37" fill="#141414" fill-opacity="0.74"/>
<ellipse cx="522.5" cy="467" rx="12.7" ry="2.8" fill="#141414" fill-opacity="0.2"/>
<ellipse cx="522.5" cy="467" rx="11.5" ry="1.5" fill="#141414" fill-opacity="0.9"/>
<rect x="512.38" y="465.92" width="20.24" height="2.16" rx="1.08" fill="#141414" fill-opacity="0.72"/>
</g></g>
<rect x="449.3" y="460.1" width="84.6" height="14.4" fill="none" stroke="#5c5c5c" stroke-width="0.85"/>
<clipPath id="h2"><rect x="449.3" y="476.6" width="84.6" height="14.4"/></clipPath>
<rect x="449.3" y="476.6" width="84.6" height="14.4" fill="#d6d6d6" stroke="none" stroke-width="1"/>
<g clip-path="url(#h2)">
<g filter="url(#blur)">
<ellipse cx="464.5" cy="483.4" rx="14.7" ry="3.3" fill="#141414" fill-opacity="0.21"/>
<ellipse cx="464.5" cy="483.4" rx="13.5" ry="2" fill="#141414" fill-opacity="0.97"/>
<rect x="452.62" y="481.96" width="23.76" height="2.88" rx="1.44" fill="#141414" fill-opacity="0.78"/>
<ellipse cx="492.5" cy="483.8" rx="16.7" ry="3.5" fill="#141414" fill-opacity="0.21"/>
<ellipse cx="492.5" cy="483.8" rx="15.5" ry="2.2" fill="#141414" fill-opacity="0.97"/>
<rect x="478.86" y="482.22" width="27.28" height="3.17" rx="1.58" fill="#141414" fill-opacity="0.78"/>
<ellipse cx="520.5" cy="483.4" rx="14.7" ry="3.2" fill="#141414" fill-opacity="0.21"/>
<ellipse cx="520.5" cy="483.4" rx="13.5" ry="1.9" fill="#141414" fill-opacity="0.97"/>
<rect x="508.62" y="482.03" width="23.76" height="2.74" rx="1.37" fill="#141414" fill-opacity="0.78"/>
</g></g>
<rect x="449.3" y="476.6" width="84.6" height="14.4" fill="none" stroke="#5c5c5c" stroke-width="0.85"/>
<clipPath id="h3"><rect x="538" y="459.9" width="84.9" height="15"/></clipPath>
<rect x="538" y="459.9" width="84.9" height="15" fill="#ebebeb" stroke="none" stroke-width="1"/>
<g clip-path="url(#h3)">
<g filter="url(#blur)">
<ellipse cx="550" cy="466.6" rx="11.2" ry="2.6" fill="#141414" fill-opacity="0.2"/>
<ellipse cx="550" cy="466.6" rx="10" ry="1.3" fill="#141414" fill-opacity="0.92"/>
<rect x="541.2" y="465.66" width="17.6" height="1.87" rx="0.94" fill="#141414" fill-opacity="0.74"/>
<ellipse cx="550" cy="471" rx="10.2" ry="2" fill="#141414" fill-opacity="0.07"/>
<ellipse cx="550" cy="471" rx="9" ry="0.7" fill="#141414" fill-opacity="0.3"/>
<rect x="542.08" y="470.5" width="15.84" height="1.01" rx="0.5" fill="#141414" fill-opacity="0.24"/>
<ellipse cx="579.25" cy="467.2" rx="10.95" ry="2.3" fill="#141414" fill-opacity="0.09"/>
<ellipse cx="579.25" cy="467.2" rx="9.75" ry="1" fill="#141414" fill-opacity="0.42"/>
<rect x="570.67" y="466.48" width="17.16" height="1.44" rx="0.72" fill="#141414" fill-opacity="0.34"/>
<ellipse cx="611" cy="467" rx="11.2" ry="2.3" fill="#141414" fill-opacity="0.07"/>
<ellipse cx="611" cy="467" rx="10" ry="1" fill="#141414" fill-opacity="0.3"/>
<rect x="602.2" y="466.28" width="17.6" height="1.44" rx="0.72" fill="#141414" fill-opacity="0.24"/>
<ellipse cx="616.5" cy="467" rx="5.7" ry="2.4" fill="#141414" fill-opacity="0.11"/>
<ellipse cx="616.5" cy="467" rx="4.5" ry="1.1" fill="#141414" fill-opacity="0.5"/>
<rect x="612.54" y="466.21" width="7.92" height="1.58" rx="0.79" fill="#141414" fill-opacity="0.4"/>
</g></g>
<rect x="538" y="459.9" width="84.9" height="15" fill="none" stroke="#5c5c5c" stroke-width="0.85"/>
<clipPath id="h4"><rect x="538" y="477.1" width="84.9" height="14.5"/></clipPath>
<rect x="538" y="477.1" width="84.9" height="14.5" fill="#e4e4e4" stroke="none" stroke-width="1"/>
<g clip-path="url(#h4)">
<g filter="url(#blur)">
<ellipse cx="551.25" cy="484.1" rx="12.45" ry="2.9" fill="#141414" fill-opacity="0.21"/>
<ellipse cx="551.25" cy="484.1" rx="11.25" ry="1.6" fill="#141414" fill-opacity="0.97"/>
<rect x="541.35" y="482.95" width="19.8" height="2.3" rx="1.15" fill="#141414" fill-opacity="0.78"/>
<ellipse cx="579.5" cy="484.3" rx="12.7" ry="2.9" fill="#141414" fill-opacity="0.21"/>
<ellipse cx="579.5" cy="484.3" rx="11.5" ry="1.6" fill="#141414" fill-opacity="0.95"/>
<rect x="569.38" y="483.15" width="20.24" height="2.3" rx="1.15" fill="#141414" fill-opacity="0.76"/>
<ellipse cx="609" cy="484.1" rx="13.2" ry="2.9" fill="#141414" fill-opacity="0.21"/>
<ellipse cx="609" cy="484.1" rx="12" ry="1.6" fill="#141414" fill-opacity="0.97"/>
<rect x="598.44" y="482.95" width="21.12" height="2.3" rx="1.15" fill="#141414" fill-opacity="0.78"/>
</g></g>
<rect x="538" y="477.1" width="84.9" height="14.5" fill="none" stroke="#5c5c5c" stroke-width="0.85"/>
<text x="408.6" y="469.6" font-size="10.5" textLength="36.1" lengthAdjust="spacingAndGlyphs" font-weight="bold" fill="#111">BUB1B</text>
<text x="410.6" y="486.5" font-size="10.4" textLength="34.1" lengthAdjust="spacingAndGlyphs" font-weight="bold" fill="#111">β-actin</text>
<text x="630.4" y="468.9" font-size="10.6" textLength="39.4" lengthAdjust="spacingAndGlyphs" font-weight="bold" fill="#111">120 kDa</text>
<text x="630.4" y="487.5" font-size="10.6" textLength="34.7" lengthAdjust="spacingAndGlyphs" font-weight="bold" fill="#111">42 kDa</text>
<text x="465" y="508.3" font-size="12.3" textLength="42.4" lengthAdjust="spacingAndGlyphs" fill="#111" stroke="#111" stroke-width="0.45">BCPAP</text>
<text x="566.8" y="508.3" font-size="11.6" textLength="36.4" lengthAdjust="spacingAndGlyphs" fill="#111" stroke="#111" stroke-width="0.45">TPC-1</text>
<text x="457.3" y="454.3" font-size="10.7" transform="rotate(-44 457.3 454.3)" fill="#111" stroke="#111" stroke-width="0.4">Blank</text>
<text x="489" y="454.3" font-size="10.7" transform="rotate(-44 489 454.3)" fill="#111" stroke="#111" stroke-width="0.4">siR-NC</text>
<text x="518.5" y="454.5" font-size="10.7" transform="rotate(-44 518.5 454.5)" fill="#111" stroke="#111" stroke-width="0.4">siR-TOP2A</text>
<text x="553.6" y="455" font-size="10.7" transform="rotate(-44 553.6 455)" fill="#111" stroke="#111" stroke-width="0.4">Blank</text>
<text x="585" y="455" font-size="10.7" transform="rotate(-44 585 455)" fill="#111" stroke="#111" stroke-width="0.4">siR-NC</text>
<text x="614.7" y="455" font-size="10.7" transform="rotate(-44 614.7 455)" fill="#111" stroke="#111" stroke-width="0.4">siR-TOP2A</text>
</g>
</svg>
</body></html>
